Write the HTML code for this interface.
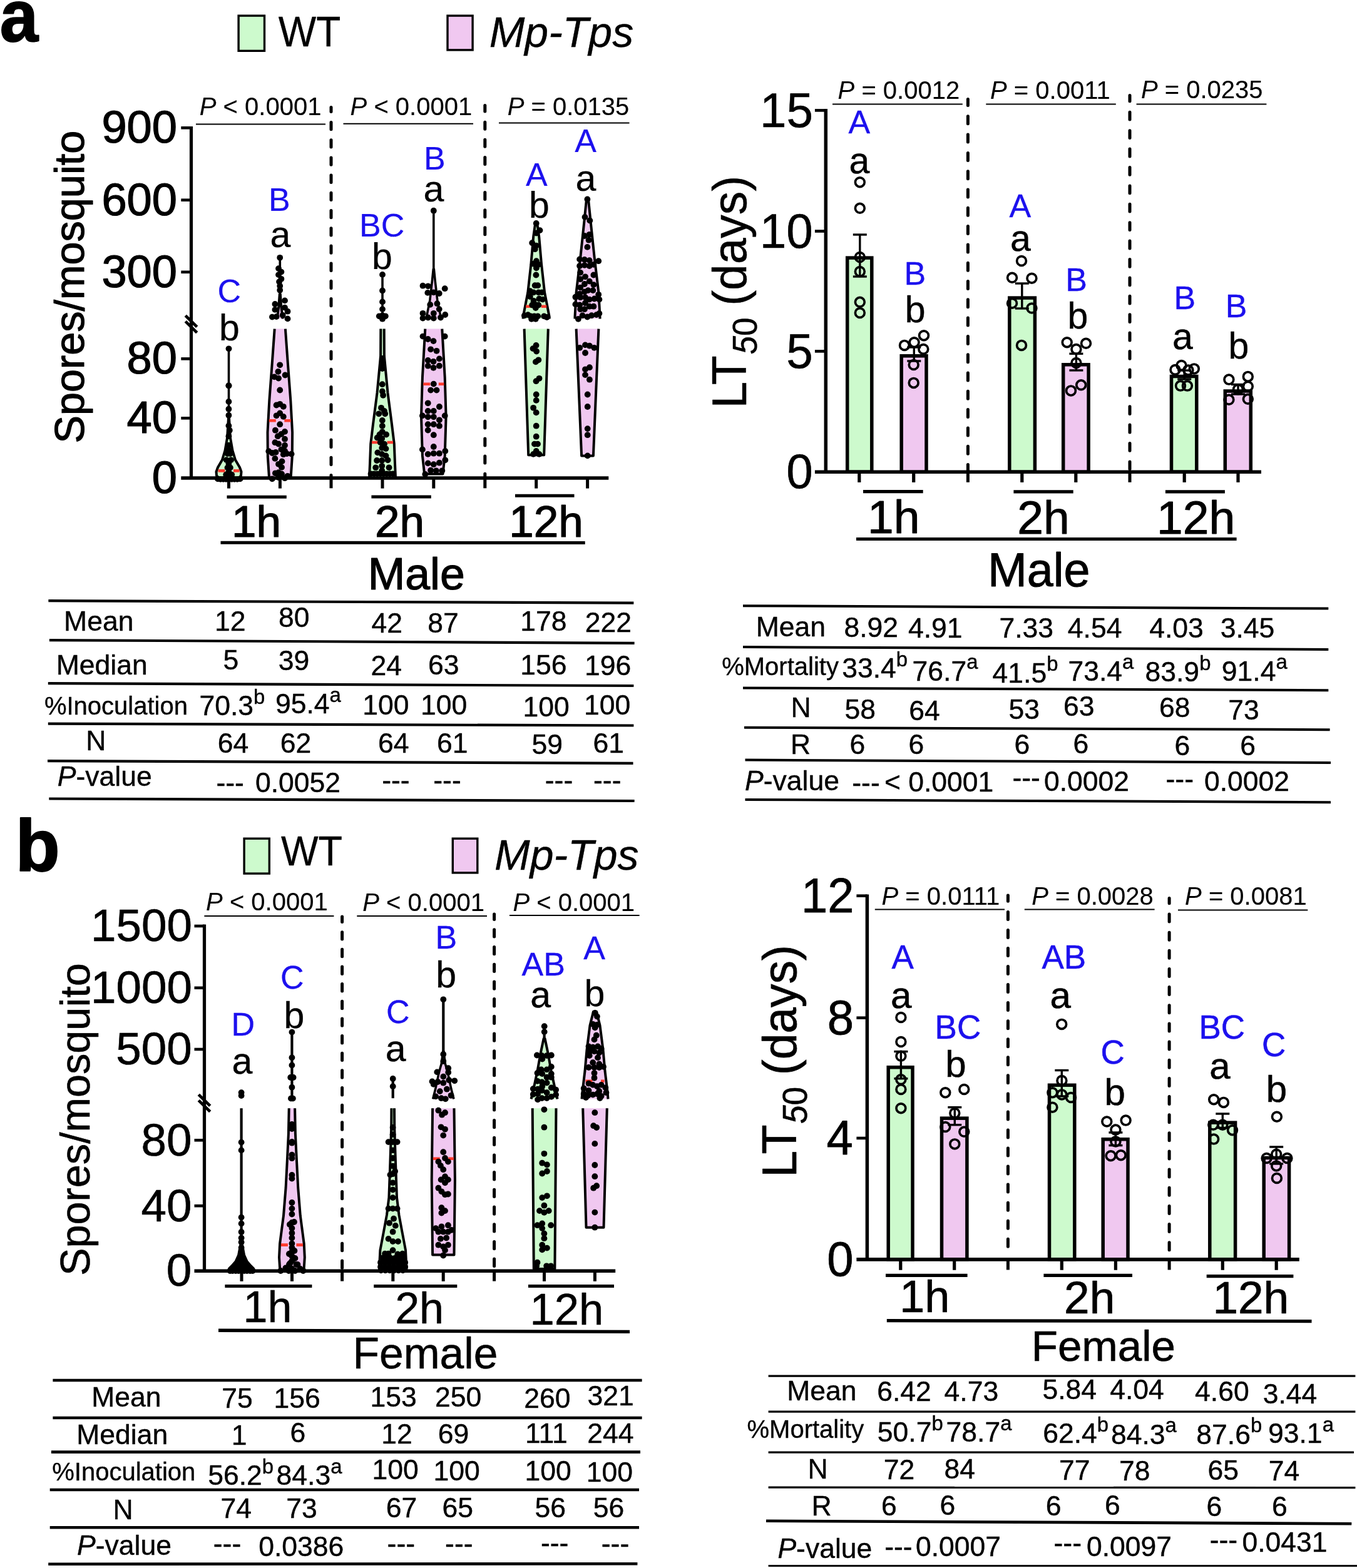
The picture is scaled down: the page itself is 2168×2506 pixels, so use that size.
<!DOCTYPE html>
<html lang="en">
<head>
<meta charset="utf-8">
<title>Figure</title>
<style>
html,body{margin:0;padding:0;background:#fff;}
body{width:2168px;height:2506px;overflow:hidden;}
svg{display:block;}
svg text{font-family:"Liberation Sans",Arial,Helvetica,sans-serif;}
</style>
</head>
<body>
<svg xmlns="http://www.w3.org/2000/svg" width="2168" height="2506" viewBox="0 0 2168 2506">
<!-- panel a : spores per mosquito, male -->
<text transform="translate(32.4 65.5) scale(0.950 1)" x="-34.4" y="0" font-size="116.0" font-weight="bold" stroke="#000" stroke-width="1.97" stroke-linejoin="round">a</text>
<rect x="381.1" y="25.1" width="41.4" height="56.2" fill="#cdfacd" stroke="#000" stroke-width="3.4"/>
<rect x="715.0" y="25.1" width="40.1" height="54.8" fill="#f0c8f0" stroke="#000" stroke-width="3.4"/>
<text transform="translate(494.0 74.3) scale(0.935 1)" x="-52.7" y="0" font-size="68.5" stroke="#000" stroke-width="0.34" stroke-linejoin="round">WT</text>
<text x="781.7" y="75.3" font-size="68.0" font-style="italic" stroke="#000" stroke-width="0.34" stroke-linejoin="round">Mp-Tps</text>
<text x="318.8" y="184.0" font-size="40.0" stroke="#000" stroke-width="0.12" stroke-linejoin="round"><tspan font-style="italic">P</tspan> &lt; 0.0001</text>
<text x="559.6" y="184.0" font-size="40.0" stroke="#000" stroke-width="0.12" stroke-linejoin="round"><tspan font-style="italic">P</tspan> &lt; 0.0001</text>
<text x="810.7" y="184.0" font-size="40.0" stroke="#000" stroke-width="0.12" stroke-linejoin="round"><tspan font-style="italic">P</tspan> = 0.0135</text>
<line x1="313.0" y1="198.5" x2="520.0" y2="198.5" stroke="#000" stroke-width="2.0"/>
<line x1="548.5" y1="197.8" x2="756.0" y2="197.8" stroke="#000" stroke-width="2.0"/>
<line x1="797.0" y1="196.5" x2="1005.5" y2="196.5" stroke="#000" stroke-width="2.0"/>
<line x1="305.5" y1="202.0" x2="305.5" y2="766.0" stroke="#000" stroke-width="5.2"/>
<line x1="289.3" y1="764.0" x2="972.3" y2="764.0" stroke="#000" stroke-width="5.4"/>
<line x1="289.3" y1="204.3" x2="305.5" y2="204.3" stroke="#000" stroke-width="4.6"/>
<line x1="289.3" y1="319.7" x2="305.5" y2="319.7" stroke="#000" stroke-width="4.6"/>
<line x1="289.3" y1="434.8" x2="305.5" y2="434.8" stroke="#000" stroke-width="4.6"/>
<line x1="289.3" y1="573.4" x2="305.5" y2="573.4" stroke="#000" stroke-width="4.6"/>
<line x1="289.3" y1="668.3" x2="305.5" y2="668.3" stroke="#000" stroke-width="4.6"/>
<line x1="296.3" y1="504.4" x2="314.7" y2="522.4" stroke="#000" stroke-width="4.8"/>
<line x1="296.3" y1="513.6" x2="314.7" y2="531.6" stroke="#000" stroke-width="4.8"/>
<line x1="365.5" y1="764.0" x2="365.5" y2="780.6" stroke="#000" stroke-width="5.0"/>
<line x1="447.4" y1="764.0" x2="447.4" y2="780.6" stroke="#000" stroke-width="5.0"/>
<line x1="611.0" y1="764.0" x2="611.0" y2="780.6" stroke="#000" stroke-width="5.0"/>
<line x1="692.8" y1="764.0" x2="692.8" y2="780.6" stroke="#000" stroke-width="5.0"/>
<line x1="856.7" y1="764.0" x2="856.7" y2="780.6" stroke="#000" stroke-width="5.0"/>
<line x1="938.6" y1="764.0" x2="938.6" y2="780.6" stroke="#000" stroke-width="5.0"/>
<path d="M529.0 759.5V763.3M529.0 731.3V742.6M529.0 703.1V714.4M529.0 674.9V686.2M529.0 646.7V658.0M529.0 618.5V629.8M529.0 590.3V601.6M529.0 562.1V573.4M529.0 533.9V545.2M529.0 505.7V517.0M529.0 477.5V488.8M529.0 449.3V460.6M529.0 421.1V432.4M529.0 392.9V404.2M529.0 364.7V376.0M529.0 336.5V347.8M529.0 308.3V319.6M529.0 280.1V291.4M529.0 251.9V263.2M529.0 223.7V235.0M529.0 195.5V206.8M529.0 171.5V178.6" fill="none" stroke="#000" stroke-width="5.0" stroke-linecap="round"/>
<line x1="529.0" y1="763.8" x2="529.0" y2="780.3" stroke="#000" stroke-width="5.0"/>
<path d="M774.8 757.2V763.3M774.8 729.1V740.1M774.8 701.0V712.0M774.8 672.9V683.9M774.8 644.8V655.8M774.8 616.7V627.7M774.8 588.6V599.6M774.8 560.5V571.5M774.8 532.4V543.4M774.8 504.3V515.3M774.8 476.2V487.2M774.8 448.1V459.1M774.8 420.0V431.0M774.8 391.9V402.9M774.8 363.8V374.8M774.8 335.7V346.7M774.8 307.6V318.6M774.8 279.5V290.5M774.8 251.4V262.4M774.8 223.3V234.3M774.8 195.2V206.2M774.8 168.5V178.1" fill="none" stroke="#000" stroke-width="5.0" stroke-linecap="round"/>
<line x1="774.8" y1="763.8" x2="774.8" y2="780.3" stroke="#000" stroke-width="5.0"/>
<text x="162.4" y="228.3" font-size="72.3" stroke="#000" stroke-width="1.23" stroke-linejoin="round">900</text>
<text x="162.4" y="343.7" font-size="72.3" stroke="#000" stroke-width="1.23" stroke-linejoin="round">600</text>
<text x="162.4" y="458.8" font-size="72.3" stroke="#000" stroke-width="1.23" stroke-linejoin="round">300</text>
<text x="202.6" y="597.4" font-size="72.3" stroke="#000" stroke-width="1.23" stroke-linejoin="round">80</text>
<text x="202.6" y="692.3" font-size="72.3" stroke="#000" stroke-width="1.23" stroke-linejoin="round">40</text>
<text x="242.7" y="787.6" font-size="72.3" stroke="#000" stroke-width="1.23" stroke-linejoin="round">0</text>
<text transform="translate(134.2 708.5) rotate(-90)" font-size="66.6" stroke="#000" stroke-width="1.13" stroke-linejoin="round">Spores/mosquito</text>
<text x="347.4" y="482.6" font-size="52.0" fill="#1c10ee" stroke="#1c10ee" stroke-width="0.21" stroke-linejoin="round">C</text>
<text x="349.9" y="543.6" font-size="59.0" stroke="#000" stroke-width="0.24" stroke-linejoin="round">b</text>
<text x="429.1" y="336.5" font-size="52.0" fill="#1c10ee" stroke="#1c10ee" stroke-width="0.21" stroke-linejoin="round">B</text>
<text x="431.4" y="394.6" font-size="59.0" stroke="#000" stroke-width="0.24" stroke-linejoin="round">a</text>
<text x="574.1" y="378.0" font-size="52.0" fill="#1c10ee" stroke="#1c10ee" stroke-width="0.21" stroke-linejoin="round">BC</text>
<text x="594.1" y="430.0" font-size="59.0" stroke="#000" stroke-width="0.24" stroke-linejoin="round">b</text>
<text x="676.9" y="270.5" font-size="52.0" fill="#1c10ee" stroke="#1c10ee" stroke-width="0.21" stroke-linejoin="round">B</text>
<text x="676.4" y="322.0" font-size="59.0" stroke="#000" stroke-width="0.24" stroke-linejoin="round">a</text>
<text x="839.9" y="297.0" font-size="52.0" fill="#1c10ee" stroke="#1c10ee" stroke-width="0.21" stroke-linejoin="round">A</text>
<text x="845.0" y="348.0" font-size="59.0" stroke="#000" stroke-width="0.24" stroke-linejoin="round">b</text>
<text x="918.2" y="243.4" font-size="52.0" fill="#1c10ee" stroke="#1c10ee" stroke-width="0.21" stroke-linejoin="round">A</text>
<text x="919.4" y="305.0" font-size="59.0" stroke="#000" stroke-width="0.24" stroke-linejoin="round">a</text>
<line x1="365.5" y1="557.0" x2="365.5" y2="700.0" stroke="#000" stroke-width="3.6"/>
<path d="M365.0 668.0 L363.0 700.0 L359.5 720.0 L355.0 735.0 L348.0 747.0 L345.5 754.0 L346.0 760.0 L348.5 763.5 L382.5 763.5 L385.0 760.0 L385.5 754.0 L383.0 747.0 L376.0 735.0 L371.5 720.0 L368.0 700.0 L366.0 668.0 Z" fill="#cdfacd"/>
<path d="M365.0 668.0 L363.0 700.0 L359.5 720.0 L355.0 735.0 L348.0 747.0 L345.5 754.0 L346.0 760.0 L348.5 763.5 L382.5 763.5 L385.0 760.0 L385.5 754.0 L383.0 747.0 L376.0 735.0 L371.5 720.0 L368.0 700.0 L366.0 668.0 Z" fill="none" stroke="#000" stroke-width="4.0" stroke-linejoin="round"/>
<line x1="348.5" y1="752.4" x2="382.5" y2="752.4" stroke="#ff3a2e" stroke-width="4.6" stroke-dasharray="11 13.5"/>
<g fill="#000">
<circle cx="365.4" cy="616.3" r="4.9"/>
<circle cx="365.4" cy="641.9" r="4.9"/>
<circle cx="365.4" cy="653.7" r="4.9"/>
<circle cx="365.4" cy="663.7" r="4.9"/>
<circle cx="365.4" cy="680.4" r="4.9"/>
<circle cx="366.8" cy="687.7" r="4.9"/>
<circle cx="365.4" cy="697.2" r="4.9"/>
<circle cx="365.4" cy="711.7" r="4.9"/>
<circle cx="365.4" cy="719.5" r="4.9"/>
<circle cx="363.5" cy="725.1" r="4.9"/>
<circle cx="367.9" cy="725.1" r="4.9"/>
<circle cx="361.8" cy="735.1" r="4.9"/>
<circle cx="369.1" cy="735.1" r="4.9"/>
<circle cx="365.4" cy="740.7" r="4.9"/>
<circle cx="363.5" cy="747.4" r="4.9"/>
<circle cx="367.9" cy="747.4" r="4.9"/>
<circle cx="365.4" cy="754.1" r="4.9"/>
<circle cx="361.2" cy="758.6" r="4.9"/>
<circle cx="370.2" cy="758.6" r="4.9"/>
<circle cx="365.4" cy="760.8" r="4.9"/>
<circle cx="347.9" cy="765.3" r="4.9"/>
<circle cx="352.3" cy="765.8" r="4.9"/>
<circle cx="356.8" cy="765.8" r="4.9"/>
<circle cx="361.2" cy="765.8" r="4.9"/>
<circle cx="365.7" cy="765.8" r="4.9"/>
<circle cx="370.2" cy="765.8" r="4.9"/>
<circle cx="374.6" cy="765.8" r="4.9"/>
<circle cx="379.1" cy="765.8" r="4.9"/>
<circle cx="383.6" cy="765.3" r="4.9"/>
<circle cx="365.5" cy="557.3" r="4.9"/>
<circle cx="365.5" cy="616.5" r="4.9"/>
</g>
<line x1="447.3" y1="412.0" x2="447.3" y2="482.0" stroke="#000" stroke-width="3.6"/>
<path d="M446.8 470.0 L445.3 490.0 L442.8 509.5 L451.8 509.5 L449.3 490.0 L447.8 470.0 Z" fill="#f0c8f0"/>
<path d="M442.8 509.5 L445.3 490.0 L446.8 470.0 L447.8 470.0 L449.3 490.0 L451.8 509.5" fill="none" stroke="#000" stroke-width="4.0" stroke-linejoin="round"/>
<g fill="#000">
<circle cx="447.2" cy="411.8" r="4.9"/>
<circle cx="445.0" cy="429.1" r="4.9"/>
<circle cx="449.4" cy="434.6" r="4.9"/>
<circle cx="445.0" cy="439.1" r="4.9"/>
<circle cx="449.4" cy="445.8" r="4.9"/>
<circle cx="446.1" cy="450.3" r="4.9"/>
<circle cx="447.2" cy="457.0" r="4.9"/>
<circle cx="447.2" cy="463.7" r="4.9"/>
<circle cx="455.0" cy="480.4" r="4.9"/>
<circle cx="439.4" cy="486.0" r="4.9"/>
<circle cx="455.0" cy="491.6" r="4.9"/>
<circle cx="439.4" cy="494.9" r="4.9"/>
<circle cx="459.5" cy="497.7" r="4.9"/>
<circle cx="434.9" cy="506.6" r="4.9"/>
<circle cx="441.6" cy="506.1" r="4.9"/>
<circle cx="451.7" cy="503.8" r="4.9"/>
<circle cx="459.5" cy="509.4" r="4.9"/>
</g>
<path d="M438.7 525.6 L434.8 580.0 L430.3 640.0 L427.5 691.0 L427.8 730.0 L430.0 763.5 L464.6 763.5 L466.8 730.0 L467.1 691.0 L464.3 640.0 L459.8 580.0 L455.9 525.6 Z" fill="#f0c8f0"/>
<path d="M438.7 525.6 L434.8 580.0 L430.3 640.0 L427.5 691.0 L427.8 730.0 L430.0 763.5 L464.6 763.5 L466.8 730.0 L467.1 691.0 L464.3 640.0 L459.8 580.0 L455.9 525.6" fill="none" stroke="#000" stroke-width="4.0" stroke-linejoin="round"/>
<line x1="429.8" y1="672.2" x2="464.8" y2="672.2" stroke="#ff3a2e" stroke-width="4.6" stroke-dasharray="11 13.5"/>
<g fill="#000">
<circle cx="447.2" cy="583.3" r="4.9"/>
<circle cx="444.4" cy="594.0" r="4.9"/>
<circle cx="455.6" cy="599.5" r="4.9"/>
<circle cx="438.3" cy="602.3" r="4.9"/>
<circle cx="445.0" cy="604.6" r="4.9"/>
<circle cx="447.2" cy="623.5" r="4.9"/>
<circle cx="441.6" cy="647.5" r="4.9"/>
<circle cx="447.2" cy="645.8" r="4.9"/>
<circle cx="452.8" cy="649.8" r="4.9"/>
<circle cx="447.2" cy="660.4" r="4.9"/>
<circle cx="441.6" cy="664.3" r="4.9"/>
<circle cx="452.8" cy="665.9" r="4.9"/>
<circle cx="447.2" cy="678.2" r="4.9"/>
<circle cx="439.9" cy="687.7" r="4.9"/>
<circle cx="455.0" cy="689.9" r="4.9"/>
<circle cx="449.4" cy="693.8" r="4.9"/>
<circle cx="443.8" cy="697.2" r="4.9"/>
<circle cx="455.0" cy="701.7" r="4.9"/>
<circle cx="439.4" cy="707.2" r="4.9"/>
<circle cx="445.0" cy="709.5" r="4.9"/>
<circle cx="455.0" cy="711.7" r="4.9"/>
<circle cx="449.4" cy="718.4" r="4.9"/>
<circle cx="455.0" cy="720.6" r="4.9"/>
<circle cx="429.3" cy="721.2" r="4.9"/>
<circle cx="434.9" cy="724.0" r="4.9"/>
<circle cx="440.5" cy="722.9" r="4.9"/>
<circle cx="452.8" cy="726.2" r="4.9"/>
<circle cx="458.3" cy="725.1" r="4.9"/>
<circle cx="465.6" cy="725.6" r="4.9"/>
<circle cx="439.4" cy="732.9" r="4.9"/>
<circle cx="450.5" cy="737.4" r="4.9"/>
<circle cx="445.0" cy="741.8" r="4.9"/>
<circle cx="450.0" cy="746.9" r="4.9"/>
<circle cx="439.9" cy="756.3" r="4.9"/>
<circle cx="445.0" cy="755.2" r="4.9"/>
<circle cx="450.0" cy="757.5" r="4.9"/>
<circle cx="445.0" cy="763.0" r="4.9"/>
<circle cx="434.9" cy="765.3" r="4.9"/>
<circle cx="455.0" cy="764.2" r="4.9"/>
<circle cx="459.5" cy="760.8" r="4.9"/>
</g>
<line x1="611.0" y1="439.0" x2="611.0" y2="511.0" stroke="#000" stroke-width="3.6"/>
<g fill="#000">
<circle cx="611.0" cy="438.9" r="4.9"/>
<circle cx="611.0" cy="464.5" r="4.9"/>
<circle cx="611.0" cy="482.4" r="4.9"/>
<circle cx="611.0" cy="494.1" r="4.9"/>
<circle cx="611.0" cy="504.2" r="4.9"/>
<circle cx="605.8" cy="505.3" r="4.9"/>
<circle cx="615.8" cy="505.3" r="4.9"/>
<circle cx="611.0" cy="509.7" r="4.9"/>
</g>
<path d="M608.3 525.6 L608.1 569.0 L602.5 628.0 L596.0 678.0 L592.2 709.6 L591.0 741.0 L590.0 763.5 L632.0 763.5 L631.0 741.0 L629.8 709.6 L626.0 678.0 L619.5 628.0 L613.9 569.0 L613.7 525.6 Z" fill="#cdfacd"/>
<path d="M608.3 525.6 L608.1 569.0 L602.5 628.0 L596.0 678.0 L592.2 709.6 L591.0 741.0 L590.0 763.5 L632.0 763.5 L631.0 741.0 L629.8 709.6 L626.0 678.0 L619.5 628.0 L613.9 569.0 L613.7 525.6" fill="none" stroke="#000" stroke-width="4.0" stroke-linejoin="round"/>
<line x1="594.0" y1="707.0" x2="628.0" y2="707.0" stroke="#ff3a2e" stroke-width="4.6" stroke-dasharray="11 13.5"/>
<g fill="#000">
<circle cx="610.8" cy="572.8" r="4.9"/>
<circle cx="610.8" cy="581.5" r="4.9"/>
<circle cx="610.8" cy="589.1" r="4.9"/>
<circle cx="610.8" cy="614.2" r="4.9"/>
<circle cx="610.8" cy="625.5" r="4.9"/>
<circle cx="612.1" cy="631.8" r="4.9"/>
<circle cx="609.0" cy="651.8" r="4.9"/>
<circle cx="614.0" cy="656.9" r="4.9"/>
<circle cx="605.2" cy="661.3" r="4.9"/>
<circle cx="615.2" cy="661.3" r="4.9"/>
<circle cx="610.8" cy="671.9" r="4.9"/>
<circle cx="610.8" cy="680.7" r="4.9"/>
<circle cx="610.8" cy="690.1" r="4.9"/>
<circle cx="606.5" cy="694.5" r="4.9"/>
<circle cx="617.1" cy="694.5" r="4.9"/>
<circle cx="602.7" cy="699.6" r="4.9"/>
<circle cx="610.2" cy="700.8" r="4.9"/>
<circle cx="607.7" cy="707.1" r="4.9"/>
<circle cx="614.0" cy="709.6" r="4.9"/>
<circle cx="610.2" cy="715.9" r="4.9"/>
<circle cx="616.5" cy="717.1" r="4.9"/>
<circle cx="603.3" cy="723.4" r="4.9"/>
<circle cx="610.2" cy="725.9" r="4.9"/>
<circle cx="616.5" cy="728.4" r="4.9"/>
<circle cx="602.1" cy="736.0" r="4.9"/>
<circle cx="610.2" cy="736.0" r="4.9"/>
<circle cx="619.6" cy="735.3" r="4.9"/>
<circle cx="610.2" cy="744.8" r="4.9"/>
<circle cx="600.2" cy="747.3" r="4.9"/>
<circle cx="621.5" cy="747.3" r="4.9"/>
<circle cx="592.6" cy="757.3" r="4.9"/>
<circle cx="597.7" cy="757.3" r="4.9"/>
<circle cx="602.7" cy="757.3" r="4.9"/>
<circle cx="607.7" cy="757.3" r="4.9"/>
<circle cx="612.7" cy="757.3" r="4.9"/>
<circle cx="617.8" cy="757.3" r="4.9"/>
<circle cx="622.8" cy="757.3" r="4.9"/>
<circle cx="627.8" cy="757.3" r="4.9"/>
<circle cx="610.2" cy="752.3" r="4.9"/>
</g>
<line x1="692.8" y1="337.0" x2="692.8" y2="445.0" stroke="#000" stroke-width="3.6"/>
<path d="M692.3 430.0 L690.3 450.0 L686.8 480.0 L680.8 509.5 L704.8 509.5 L698.8 480.0 L695.3 450.0 L693.3 430.0 Z" fill="#f0c8f0"/>
<path d="M680.8 509.5 L686.8 480.0 L690.3 450.0 L692.3 430.0 L693.3 430.0 L695.3 450.0 L698.8 480.0 L704.8 509.5" fill="none" stroke="#000" stroke-width="3.6" stroke-linejoin="round"/>
<g fill="#000">
<circle cx="692.8" cy="336.7" r="4.9"/>
<circle cx="675.5" cy="456.7" r="4.9"/>
<circle cx="683.9" cy="457.3" r="4.9"/>
<circle cx="710.7" cy="461.2" r="4.9"/>
<circle cx="683.3" cy="467.9" r="4.9"/>
<circle cx="692.8" cy="467.3" r="4.9"/>
<circle cx="701.7" cy="469.0" r="4.9"/>
<circle cx="687.2" cy="486.9" r="4.9"/>
<circle cx="698.4" cy="485.2" r="4.9"/>
<circle cx="701.7" cy="494.1" r="4.9"/>
<circle cx="675.5" cy="500.8" r="4.9"/>
<circle cx="692.8" cy="500.8" r="4.9"/>
<circle cx="711.2" cy="503.0" r="4.9"/>
<circle cx="675.5" cy="508.6" r="4.9"/>
<circle cx="683.9" cy="507.5" r="4.9"/>
<circle cx="692.8" cy="508.6" r="4.9"/>
<circle cx="704.0" cy="507.5" r="4.9"/>
</g>
<path d="M679.3 525.6 L674.9 603.0 L673.0 665.7 L674.9 728.4 L678.1 757.5 L707.5 757.5 L710.7 728.4 L712.6 665.7 L710.7 603.0 L706.3 525.6 Z" fill="#f0c8f0"/>
<path d="M679.3 525.6 L674.9 603.0 L673.0 665.7 L674.9 728.4 L678.1 757.5 L707.5 757.5 L710.7 728.4 L712.6 665.7 L710.7 603.0 L706.3 525.6" fill="none" stroke="#000" stroke-width="4.0" stroke-linejoin="round"/>
<line x1="676.3" y1="613.8" x2="709.3" y2="613.8" stroke="#ff3a2e" stroke-width="4.6" stroke-dasharray="11 13.5"/>
<g fill="#000">
<circle cx="675.5" cy="537.6" r="4.9"/>
<circle cx="710.7" cy="537.6" r="4.9"/>
<circle cx="683.7" cy="542.0" r="4.9"/>
<circle cx="692.5" cy="545.1" r="4.9"/>
<circle cx="688.1" cy="558.3" r="4.9"/>
<circle cx="697.5" cy="560.8" r="4.9"/>
<circle cx="701.9" cy="573.4" r="4.9"/>
<circle cx="683.7" cy="575.9" r="4.9"/>
<circle cx="692.5" cy="577.8" r="4.9"/>
<circle cx="683.7" cy="584.7" r="4.9"/>
<circle cx="701.9" cy="584.7" r="4.9"/>
<circle cx="692.5" cy="587.8" r="4.9"/>
<circle cx="692.8" cy="613.6" r="4.9"/>
<circle cx="688.1" cy="623.6" r="4.9"/>
<circle cx="697.5" cy="623.6" r="4.9"/>
<circle cx="683.7" cy="644.3" r="4.9"/>
<circle cx="701.9" cy="650.0" r="4.9"/>
<circle cx="683.7" cy="656.9" r="4.9"/>
<circle cx="692.8" cy="656.9" r="4.9"/>
<circle cx="674.9" cy="664.4" r="4.9"/>
<circle cx="710.7" cy="664.4" r="4.9"/>
<circle cx="683.7" cy="666.3" r="4.9"/>
<circle cx="692.8" cy="666.3" r="4.9"/>
<circle cx="701.9" cy="671.3" r="4.9"/>
<circle cx="683.7" cy="678.2" r="4.9"/>
<circle cx="692.8" cy="678.2" r="4.9"/>
<circle cx="701.9" cy="680.7" r="4.9"/>
<circle cx="683.7" cy="687.6" r="4.9"/>
<circle cx="692.8" cy="695.2" r="4.9"/>
<circle cx="692.8" cy="714.0" r="4.9"/>
<circle cx="674.9" cy="718.4" r="4.9"/>
<circle cx="711.3" cy="720.9" r="4.9"/>
<circle cx="683.7" cy="725.9" r="4.9"/>
<circle cx="692.8" cy="724.7" r="4.9"/>
<circle cx="701.9" cy="724.7" r="4.9"/>
<circle cx="711.3" cy="735.3" r="4.9"/>
<circle cx="683.7" cy="740.4" r="4.9"/>
<circle cx="692.8" cy="742.2" r="4.9"/>
<circle cx="701.9" cy="739.7" r="4.9"/>
<circle cx="688.1" cy="751.7" r="4.9"/>
<circle cx="696.8" cy="752.3" r="4.9"/>
<circle cx="706.3" cy="752.3" r="4.9"/>
<circle cx="679.3" cy="757.9" r="4.9"/>
</g>
<path d="M855.2 357.0 L852.2 378.0 L848.3 422.8 L843.3 467.4 L835.7 506.5 L835.7 509.5 L877.7 509.5 L877.7 506.5 L870.1 467.4 L865.1 422.8 L861.2 378.0 L858.2 357.0 Z" fill="#cdfacd"/>
<path d="M835.7 509.5 L835.7 506.5 L843.3 467.4 L848.3 422.8 L852.2 378.0 L855.2 357.0 L858.2 357.0 L861.2 378.0 L865.1 422.8 L870.1 467.4 L877.7 506.5 L877.7 509.5" fill="none" stroke="#000" stroke-width="4.0" stroke-linejoin="round"/>
<line x1="840.2" y1="489.7" x2="873.2" y2="489.7" stroke="#ff3a2e" stroke-width="4.6" stroke-dasharray="11 13.5"/>
<g fill="#000">
<circle cx="856.7" cy="356.9" r="4.9"/>
<circle cx="862.5" cy="368.1" r="4.9"/>
<circle cx="856.9" cy="372.5" r="4.9"/>
<circle cx="850.2" cy="388.2" r="4.9"/>
<circle cx="856.9" cy="392.6" r="4.9"/>
<circle cx="854.7" cy="398.2" r="4.9"/>
<circle cx="856.9" cy="417.2" r="4.9"/>
<circle cx="852.5" cy="421.7" r="4.9"/>
<circle cx="860.3" cy="422.8" r="4.9"/>
<circle cx="856.9" cy="428.3" r="4.9"/>
<circle cx="856.4" cy="439.5" r="4.9"/>
<circle cx="854.7" cy="456.2" r="4.9"/>
<circle cx="859.2" cy="456.2" r="4.9"/>
<circle cx="846.9" cy="465.2" r="4.9"/>
<circle cx="852.5" cy="467.4" r="4.9"/>
<circle cx="860.3" cy="467.4" r="4.9"/>
<circle cx="865.8" cy="467.4" r="4.9"/>
<circle cx="846.9" cy="474.1" r="4.9"/>
<circle cx="852.5" cy="480.8" r="4.9"/>
<circle cx="861.4" cy="477.5" r="4.9"/>
<circle cx="867.0" cy="478.6" r="4.9"/>
<circle cx="850.2" cy="487.5" r="4.9"/>
<circle cx="855.8" cy="487.5" r="4.9"/>
<circle cx="860.3" cy="487.5" r="4.9"/>
<circle cx="855.8" cy="492.0" r="4.9"/>
<circle cx="837.9" cy="504.2" r="4.9"/>
<circle cx="843.5" cy="503.1" r="4.9"/>
<circle cx="848.0" cy="505.4" r="4.9"/>
<circle cx="853.6" cy="505.4" r="4.9"/>
<circle cx="859.2" cy="505.4" r="4.9"/>
<circle cx="869.2" cy="505.4" r="4.9"/>
<circle cx="873.7" cy="507.0" r="4.9"/>
<circle cx="855.8" cy="509.8" r="4.9"/>
<circle cx="849.1" cy="509.8" r="4.9"/>
</g>
<path d="M837.6 525.6 L844.2 727.3 L869.2 727.3 L875.8 525.6 Z" fill="#cdfacd"/>
<path d="M837.6 525.6 L844.2 727.3 L869.2 727.3 L875.8 525.6" fill="none" stroke="#000" stroke-width="4.0" stroke-linejoin="round"/>
<g fill="#000">
<circle cx="856.5" cy="552.0" r="4.9"/>
<circle cx="851.5" cy="557.1" r="4.9"/>
<circle cx="857.1" cy="561.5" r="4.9"/>
<circle cx="860.3" cy="575.3" r="4.9"/>
<circle cx="855.9" cy="578.4" r="4.9"/>
<circle cx="861.5" cy="604.8" r="4.9"/>
<circle cx="856.5" cy="609.2" r="4.9"/>
<circle cx="856.7" cy="630.5" r="4.9"/>
<circle cx="856.7" cy="639.9" r="4.9"/>
<circle cx="852.1" cy="651.8" r="4.9"/>
<circle cx="856.7" cy="659.4" r="4.9"/>
<circle cx="856.7" cy="680.7" r="4.9"/>
<circle cx="856.7" cy="697.7" r="4.9"/>
<circle cx="854.0" cy="709.6" r="4.9"/>
<circle cx="859.0" cy="709.6" r="4.9"/>
<circle cx="856.7" cy="720.9" r="4.9"/>
<circle cx="852.1" cy="725.9" r="4.9"/>
<circle cx="861.5" cy="725.9" r="4.9"/>
</g>
<path d="M937.0 318.5 L933.2 355.8 L927.3 411.6 L920.6 467.4 L918.5 506.5 L918.5 509.5 L958.5 509.5 L958.5 506.5 L956.4 467.4 L949.7 411.6 L943.8 355.8 L940.0 318.5 Z" fill="#f0c8f0"/>
<path d="M918.5 509.5 L918.5 506.5 L920.6 467.4 L927.3 411.6 L933.2 355.8 L937.0 318.5 L940.0 318.5 L943.8 355.8 L949.7 411.6 L956.4 467.4 L958.5 506.5 L958.5 509.5" fill="none" stroke="#000" stroke-width="4.0" stroke-linejoin="round"/>
<g fill="#000">
<circle cx="938.4" cy="318.4" r="4.9"/>
<circle cx="934.5" cy="346.9" r="4.9"/>
<circle cx="942.3" cy="352.5" r="4.9"/>
<circle cx="933.9" cy="377.0" r="4.9"/>
<circle cx="941.7" cy="374.8" r="4.9"/>
<circle cx="940.6" cy="383.7" r="4.9"/>
<circle cx="938.4" cy="394.9" r="4.9"/>
<circle cx="926.1" cy="414.4" r="4.9"/>
<circle cx="933.9" cy="415.0" r="4.9"/>
<circle cx="941.7" cy="416.1" r="4.9"/>
<circle cx="956.2" cy="417.2" r="4.9"/>
<circle cx="926.1" cy="425.0" r="4.9"/>
<circle cx="933.9" cy="423.9" r="4.9"/>
<circle cx="941.7" cy="425.0" r="4.9"/>
<circle cx="948.4" cy="422.8" r="4.9"/>
<circle cx="927.2" cy="435.6" r="4.9"/>
<circle cx="948.4" cy="439.5" r="4.9"/>
<circle cx="935.0" cy="442.3" r="4.9"/>
<circle cx="927.2" cy="446.2" r="4.9"/>
<circle cx="941.7" cy="449.6" r="4.9"/>
<circle cx="933.9" cy="454.0" r="4.9"/>
<circle cx="948.4" cy="455.1" r="4.9"/>
<circle cx="927.2" cy="459.6" r="4.9"/>
<circle cx="939.5" cy="464.1" r="4.9"/>
<circle cx="947.3" cy="464.1" r="4.9"/>
<circle cx="933.9" cy="466.3" r="4.9"/>
<circle cx="926.1" cy="469.6" r="4.9"/>
<circle cx="956.2" cy="470.8" r="4.9"/>
<circle cx="919.4" cy="474.7" r="4.9"/>
<circle cx="927.2" cy="475.2" r="4.9"/>
<circle cx="935.0" cy="475.2" r="4.9"/>
<circle cx="941.7" cy="478.6" r="4.9"/>
<circle cx="949.6" cy="477.5" r="4.9"/>
<circle cx="957.4" cy="478.6" r="4.9"/>
<circle cx="919.4" cy="486.4" r="4.9"/>
<circle cx="926.1" cy="487.5" r="4.9"/>
<circle cx="935.0" cy="484.2" r="4.9"/>
<circle cx="941.7" cy="489.7" r="4.9"/>
<circle cx="948.4" cy="489.7" r="4.9"/>
<circle cx="927.2" cy="494.2" r="4.9"/>
<circle cx="933.9" cy="494.2" r="4.9"/>
<circle cx="923.9" cy="509.8" r="4.9"/>
<circle cx="930.6" cy="504.2" r="4.9"/>
<circle cx="938.4" cy="506.5" r="4.9"/>
<circle cx="945.1" cy="504.2" r="4.9"/>
<circle cx="952.9" cy="503.1" r="4.9"/>
<circle cx="957.4" cy="500.9" r="4.9"/>
</g>
<path d="M920.6 525.6 L929.1 728.4 L947.9 728.4 L956.4 525.6 Z" fill="#f0c8f0"/>
<path d="M920.6 525.6 L929.1 728.4 L947.9 728.4 L956.4 525.6" fill="none" stroke="#000" stroke-width="4.0" stroke-linejoin="round"/>
<g fill="#000">
<circle cx="926.2" cy="555.8" r="4.9"/>
<circle cx="935.0" cy="551.4" r="4.9"/>
<circle cx="941.9" cy="552.7" r="4.9"/>
<circle cx="949.4" cy="555.8" r="4.9"/>
<circle cx="935.0" cy="564.0" r="4.9"/>
<circle cx="941.9" cy="587.2" r="4.9"/>
<circle cx="935.0" cy="590.3" r="4.9"/>
<circle cx="935.0" cy="599.1" r="4.9"/>
<circle cx="941.9" cy="606.7" r="4.9"/>
<circle cx="938.7" cy="630.5" r="4.9"/>
<circle cx="938.7" cy="650.0" r="4.9"/>
<circle cx="938.7" cy="685.1" r="4.9"/>
<circle cx="938.7" cy="695.2" r="4.9"/>
<circle cx="938.7" cy="728.4" r="4.9"/>
</g>
<line x1="362.5" y1="794.3" x2="457.8" y2="794.3" stroke="#000" stroke-width="5.0"/>
<line x1="593.4" y1="794.0" x2="688.8" y2="794.0" stroke="#000" stroke-width="5.0"/>
<line x1="823.0" y1="792.3" x2="917.5" y2="792.3" stroke="#000" stroke-width="5.0"/>
<text x="369.9" y="858.0" font-size="71.0" stroke="#000" stroke-width="1.21" stroke-linejoin="round">1h</text>
<text x="599.1" y="858.0" font-size="71.0" stroke="#000" stroke-width="1.21" stroke-linejoin="round">2h</text>
<text x="813.2" y="858.0" font-size="71.0" stroke="#000" stroke-width="1.21" stroke-linejoin="round">12h</text>
<line x1="352.5" y1="867.3" x2="934.7" y2="867.5" stroke="#000" stroke-width="5.0"/>
<text x="587.8" y="942.3" font-size="71.5" stroke="#000" stroke-width="1.22" stroke-linejoin="round">Male</text>
<line x1="77.4" y1="960.2" x2="1012.4" y2="963.6" stroke="#000" stroke-width="4.2"/>
<line x1="78.9" y1="1023.1" x2="1013.6" y2="1027.8" stroke="#000" stroke-width="4.2"/>
<line x1="76.8" y1="1092.2" x2="1012.4" y2="1096.0" stroke="#000" stroke-width="4.2"/>
<line x1="76.8" y1="1156.6" x2="1012.4" y2="1159.5" stroke="#000" stroke-width="4.2"/>
<line x1="76.0" y1="1216.1" x2="1011.5" y2="1219.9" stroke="#000" stroke-width="4.2"/>
<line x1="78.3" y1="1276.5" x2="1013.6" y2="1280.0" stroke="#000" stroke-width="4.2"/>
<text x="102.1" y="1007.5" font-size="44.5" stroke="#000" stroke-width="0.40" stroke-linejoin="round">Mean</text>
<text x="343.0" y="1007.5" font-size="44.5" stroke="#000" stroke-width="0.40" stroke-linejoin="round">12</text>
<text x="445.1" y="1002.0" font-size="44.5" stroke="#000" stroke-width="0.40" stroke-linejoin="round">80</text>
<text x="593.4" y="1011.0" font-size="44.5" stroke="#000" stroke-width="0.40" stroke-linejoin="round">42</text>
<text x="683.2" y="1011.0" font-size="44.5" stroke="#000" stroke-width="0.40" stroke-linejoin="round">87</text>
<text x="831.2" y="1007.5" font-size="44.5" stroke="#000" stroke-width="0.40" stroke-linejoin="round">178</text>
<text x="934.7" y="1010.0" font-size="44.5" stroke="#000" stroke-width="0.40" stroke-linejoin="round">222</text>
<text x="89.8" y="1077.7" font-size="44.5" stroke="#000" stroke-width="0.40" stroke-linejoin="round">Median</text>
<text x="356.4" y="1070.4" font-size="44.5" stroke="#000" stroke-width="0.40" stroke-linejoin="round">5</text>
<text x="444.8" y="1071.3" font-size="44.5" stroke="#000" stroke-width="0.40" stroke-linejoin="round">39</text>
<text x="592.5" y="1079.0" font-size="44.5" stroke="#000" stroke-width="0.40" stroke-linejoin="round">24</text>
<text x="684.1" y="1077.7" font-size="44.5" stroke="#000" stroke-width="0.40" stroke-linejoin="round">63</text>
<text x="831.2" y="1077.7" font-size="44.5" stroke="#000" stroke-width="0.40" stroke-linejoin="round">156</text>
<text x="934.1" y="1078.5" font-size="44.5" stroke="#000" stroke-width="0.40" stroke-linejoin="round">196</text>
<text x="137.2" y="1199.0" font-size="44.5" stroke="#000" stroke-width="0.40" stroke-linejoin="round">N</text>
<text x="347.8" y="1202.5" font-size="44.5" stroke="#000" stroke-width="0.40" stroke-linejoin="round">64</text>
<text x="447.8" y="1202.5" font-size="44.5" stroke="#000" stroke-width="0.40" stroke-linejoin="round">62</text>
<text x="604.1" y="1202.5" font-size="44.5" stroke="#000" stroke-width="0.40" stroke-linejoin="round">64</text>
<text x="698.0" y="1202.5" font-size="44.5" stroke="#000" stroke-width="0.40" stroke-linejoin="round">61</text>
<text x="849.4" y="1205.4" font-size="44.5" stroke="#000" stroke-width="0.40" stroke-linejoin="round">59</text>
<text x="947.5" y="1202.5" font-size="44.5" stroke="#000" stroke-width="0.40" stroke-linejoin="round">61</text>
<text x="70.9" y="1141.5" font-size="40.0" stroke="#000" stroke-width="0.36" stroke-linejoin="round">%Inoculation</text>
<text x="318.4" y="1143.0" font-size="44.5" stroke="#000" stroke-width="0.40" stroke-linejoin="round">70.3<tspan font-size="32.9" dy="-18.5">b</tspan></text>
<text x="439.9" y="1140.0" font-size="44.5" stroke="#000" stroke-width="0.40" stroke-linejoin="round">95.4<tspan font-size="32.9" dy="-18.5">a</tspan></text>
<text x="579.3" y="1142.0" font-size="44.5" stroke="#000" stroke-width="0.40" stroke-linejoin="round">100</text>
<text x="671.9" y="1142.0" font-size="44.5" stroke="#000" stroke-width="0.40" stroke-linejoin="round">100</text>
<text x="835.6" y="1145.0" font-size="44.5" stroke="#000" stroke-width="0.40" stroke-linejoin="round">100</text>
<text x="932.9" y="1142.0" font-size="44.5" stroke="#000" stroke-width="0.40" stroke-linejoin="round">100</text>
<text x="91.8" y="1256.0" font-size="44.5" stroke="#000" stroke-width="0.40" stroke-linejoin="round"><tspan font-style="italic">P</tspan>-value</text>
<text x="345.4" y="1266.0" font-size="44.5" stroke="#000" stroke-width="0.40" stroke-linejoin="round">---</text>
<text x="407.9" y="1265.7" font-size="44.5" stroke="#000" stroke-width="0.40" stroke-linejoin="round">0.0052</text>
<text x="610.2" y="1261.6" font-size="44.5" stroke="#000" stroke-width="0.40" stroke-linejoin="round">---</text>
<text x="692.3" y="1261.6" font-size="44.5" stroke="#000" stroke-width="0.40" stroke-linejoin="round">---</text>
<text x="870.8" y="1261.6" font-size="44.5" stroke="#000" stroke-width="0.40" stroke-linejoin="round">---</text>
<text x="948.0" y="1261.6" font-size="44.5" stroke="#000" stroke-width="0.40" stroke-linejoin="round">---</text>
<!-- panel a : LT50, male -->
<text x="1338.6" y="158.2" font-size="40.0" stroke="#000" stroke-width="0.12" stroke-linejoin="round"><tspan font-style="italic">P</tspan> = 0.0012</text>
<text x="1582.0" y="158.2" font-size="40.0" stroke="#000" stroke-width="0.12" stroke-linejoin="round"><tspan font-style="italic">P</tspan> = 0.0011</text>
<text x="1822.9" y="157.2" font-size="40.0" stroke="#000" stroke-width="0.12" stroke-linejoin="round"><tspan font-style="italic">P</tspan> = 0.0235</text>
<line x1="1330.0" y1="166.6" x2="1537.8" y2="166.6" stroke="#000" stroke-width="2.0"/>
<line x1="1575.3" y1="166.6" x2="1782.8" y2="166.6" stroke="#000" stroke-width="2.0"/>
<line x1="1815.6" y1="166.6" x2="2023.4" y2="166.6" stroke="#000" stroke-width="2.0"/>
<rect x="1353.7" y="412.1" width="39.1" height="342.1" fill="#cdfacd" stroke="#000" stroke-width="5.5"/>
<rect x="1440.2" y="568.8" width="39.8" height="185.5" fill="#f0c8f0" stroke="#000" stroke-width="5.5"/>
<rect x="1612.8" y="476.1" width="40.6" height="278.1" fill="#cdfacd" stroke="#000" stroke-width="5.5"/>
<rect x="1698.7" y="582.8" width="40.4" height="171.5" fill="#f0c8f0" stroke="#000" stroke-width="5.5"/>
<rect x="1871.5" y="601.5" width="40.3" height="152.7" fill="#cdfacd" stroke="#000" stroke-width="5.5"/>
<rect x="1957.3" y="625.0" width="41.0" height="129.2" fill="#f0c8f0" stroke="#000" stroke-width="5.5"/>
<line x1="1319.3" y1="174.0" x2="1319.3" y2="756.6" stroke="#000" stroke-width="5.5"/>
<line x1="1301.9" y1="754.2" x2="2015.0" y2="754.2" stroke="#000" stroke-width="5.6"/>
<line x1="1301.9" y1="176.4" x2="1319.3" y2="176.4" stroke="#000" stroke-width="4.6"/>
<line x1="1301.9" y1="369.5" x2="1319.3" y2="369.5" stroke="#000" stroke-width="4.6"/>
<line x1="1301.9" y1="561.4" x2="1319.3" y2="561.4" stroke="#000" stroke-width="4.6"/>
<line x1="1372.8" y1="754.2" x2="1372.8" y2="770.9" stroke="#000" stroke-width="5.2"/>
<line x1="1459.7" y1="754.2" x2="1459.7" y2="770.9" stroke="#000" stroke-width="5.2"/>
<line x1="1632.8" y1="754.2" x2="1632.8" y2="770.9" stroke="#000" stroke-width="5.2"/>
<line x1="1718.8" y1="754.2" x2="1718.8" y2="770.9" stroke="#000" stroke-width="5.2"/>
<line x1="1892.2" y1="754.2" x2="1892.2" y2="770.9" stroke="#000" stroke-width="5.2"/>
<line x1="1978.0" y1="754.2" x2="1978.0" y2="770.9" stroke="#000" stroke-width="5.2"/>
<path d="M1546.4 742.5V753.7M1546.4 713.2V725.2M1546.4 683.9V695.9M1546.4 654.6V666.6M1546.4 625.3V637.3M1546.4 596.0V608.0M1546.4 566.7V578.7M1546.4 537.4V549.4M1546.4 508.1V520.1M1546.4 478.8V490.8M1546.4 449.5V461.5M1546.4 420.2V432.2M1546.4 390.9V402.9M1546.4 361.6V373.6M1546.4 332.3V344.3M1546.4 303.0V315.0M1546.4 273.7V285.7M1546.4 244.4V256.4M1546.4 215.1V227.1M1546.4 185.8V197.8M1546.4 158.5V168.5" fill="none" stroke="#000" stroke-width="5.0" stroke-linecap="round"/>
<line x1="1546.4" y1="754.2" x2="1546.4" y2="770.8" stroke="#000" stroke-width="5.0"/>
<path d="M1805.0 737.9V749.7M1805.0 708.5V720.3M1805.0 679.1V690.9M1805.0 649.7V661.5M1805.0 620.3V632.1M1805.0 590.9V602.7M1805.0 561.5V573.3M1805.0 532.1V543.9M1805.0 502.7V514.5M1805.0 473.3V485.1M1805.0 443.9V455.7M1805.0 414.5V426.3M1805.0 385.1V396.9M1805.0 355.7V367.5M1805.0 326.3V338.1M1805.0 296.9V308.7M1805.0 267.5V279.3M1805.0 238.1V249.9M1805.0 208.7V220.5M1805.0 179.3V191.1M1805.0 152.5V161.7" fill="none" stroke="#000" stroke-width="5.0" stroke-linecap="round"/>
<line x1="1805.0" y1="754.2" x2="1805.0" y2="770.8" stroke="#000" stroke-width="5.0"/>
<text transform="translate(1257.8 202.6) scale(0.980 1)" x="-44.7" y="0" font-size="78.0" stroke="#000" stroke-width="0.55" stroke-linejoin="round">15</text>
<text transform="translate(1257.7 395.7) scale(0.980 1)" x="-44.8" y="0" font-size="78.0" stroke="#000" stroke-width="0.55" stroke-linejoin="round">10</text>
<text transform="translate(1277.5 587.6) scale(0.980 1)" x="-21.7" y="0" font-size="78.0" stroke="#000" stroke-width="0.55" stroke-linejoin="round">5</text>
<text transform="translate(1277.5 780.4) scale(0.980 1)" x="-21.8" y="0" font-size="78.0" stroke="#000" stroke-width="0.55" stroke-linejoin="round">0</text>
<text transform="translate(1191.8 652.4) rotate(-90)" font-size="77.0" stroke="#000" stroke-width="0.54" stroke-linejoin="round">LT</text>
<text transform="translate(1209.1 566.5) rotate(-90) scale(0.95 1)" font-size="56" stroke="#000" stroke-width="0.39" stroke-linejoin="round"><tspan font-style="italic">5</tspan>0</text>
<text transform="translate(1191.8 384.9) rotate(-90) scale(0.985 1)" x="-105.5" font-size="76.0" stroke="#000" stroke-width="0.53" stroke-linejoin="round">(days)</text>
<line x1="1373.8" y1="375.0" x2="1373.8" y2="442.0" stroke="#000" stroke-width="3.4"/>
<line x1="1362.8" y1="375.0" x2="1384.8" y2="375.0" stroke="#000" stroke-width="3.4"/>
<line x1="1362.8" y1="442.0" x2="1384.8" y2="442.0" stroke="#000" stroke-width="3.4"/>
<line x1="1460.3" y1="555.0" x2="1460.3" y2="577.0" stroke="#000" stroke-width="3.4"/>
<line x1="1449.3" y1="555.0" x2="1471.3" y2="555.0" stroke="#000" stroke-width="3.4"/>
<line x1="1449.3" y1="577.0" x2="1471.3" y2="577.0" stroke="#000" stroke-width="3.4"/>
<line x1="1632.8" y1="453.0" x2="1632.8" y2="493.0" stroke="#000" stroke-width="3.4"/>
<line x1="1621.8" y1="453.0" x2="1643.8" y2="453.0" stroke="#000" stroke-width="3.4"/>
<line x1="1621.8" y1="493.0" x2="1643.8" y2="493.0" stroke="#000" stroke-width="3.4"/>
<line x1="1719.4" y1="565.3" x2="1719.4" y2="591.9" stroke="#000" stroke-width="3.4"/>
<line x1="1708.4" y1="565.3" x2="1730.4" y2="565.3" stroke="#000" stroke-width="3.4"/>
<line x1="1708.4" y1="591.9" x2="1730.4" y2="591.9" stroke="#000" stroke-width="3.4"/>
<line x1="1892.2" y1="592.0" x2="1892.2" y2="606.0" stroke="#000" stroke-width="3.4"/>
<line x1="1881.2" y1="592.0" x2="1903.2" y2="592.0" stroke="#000" stroke-width="3.4"/>
<line x1="1881.2" y1="606.0" x2="1903.2" y2="606.0" stroke="#000" stroke-width="3.4"/>
<line x1="1978.0" y1="614.5" x2="1978.0" y2="630.0" stroke="#000" stroke-width="3.4"/>
<line x1="1967.0" y1="614.5" x2="1989.0" y2="614.5" stroke="#000" stroke-width="3.4"/>
<line x1="1967.0" y1="630.0" x2="1989.0" y2="630.0" stroke="#000" stroke-width="3.4"/>
<g fill="none" stroke="#000" stroke-width="3.7">
<circle cx="1373.8" cy="291.2" r="7.4"/>
<circle cx="1373.8" cy="332.8" r="7.4"/>
<circle cx="1373.8" cy="411.0" r="7.4"/>
<circle cx="1373.8" cy="434.0" r="7.4"/>
<circle cx="1373.8" cy="482.8" r="7.4"/>
<circle cx="1373.8" cy="500.0" r="7.4"/>
<circle cx="1445.0" cy="551.9" r="7.4"/>
<circle cx="1460.6" cy="547.2" r="7.4"/>
<circle cx="1476.0" cy="536.2" r="7.4"/>
<circle cx="1475.3" cy="558.0" r="7.4"/>
<circle cx="1459.7" cy="583.0" r="7.4"/>
<circle cx="1459.7" cy="611.9" r="7.4"/>
<circle cx="1632.0" cy="417.0" r="7.4"/>
<circle cx="1617.0" cy="443.8" r="7.4"/>
<circle cx="1648.4" cy="444.7" r="7.4"/>
<circle cx="1617.0" cy="484.7" r="7.4"/>
<circle cx="1648.4" cy="492.5" r="7.4"/>
<circle cx="1632.0" cy="551.9" r="7.4"/>
<circle cx="1704.7" cy="547.2" r="7.4"/>
<circle cx="1735.0" cy="548.8" r="7.4"/>
<circle cx="1719.4" cy="558.0" r="7.4"/>
<circle cx="1719.4" cy="580.0" r="7.4"/>
<circle cx="1711.0" cy="624.4" r="7.4"/>
<circle cx="1727.2" cy="615.3" r="7.4"/>
<circle cx="1877.5" cy="591.0" r="7.4"/>
<circle cx="1887.5" cy="584.0" r="7.4"/>
<circle cx="1898.4" cy="591.6" r="7.4"/>
<circle cx="1907.8" cy="589.4" r="7.4"/>
<circle cx="1886.0" cy="616.6" r="7.4"/>
<circle cx="1896.9" cy="616.6" r="7.4"/>
<circle cx="1963.4" cy="606.6" r="7.4"/>
<circle cx="1993.8" cy="601.9" r="7.4"/>
<circle cx="1978.0" cy="622.2" r="7.4"/>
<circle cx="1993.8" cy="617.5" r="7.4"/>
<circle cx="1963.4" cy="638.8" r="7.4"/>
<circle cx="1993.8" cy="637.8" r="7.4"/>
</g>
<text x="1355.6" y="212.5" font-size="52.0" fill="#1c10ee" stroke="#1c10ee" stroke-width="0.36" stroke-linejoin="round">A</text>
<text x="1356.6" y="277.0" font-size="59.0" stroke="#000" stroke-width="0.41" stroke-linejoin="round">a</text>
<text x="1444.4" y="454.7" font-size="52.0" fill="#1c10ee" stroke="#1c10ee" stroke-width="0.36" stroke-linejoin="round">B</text>
<text x="1445.8" y="514.6" font-size="59.0" stroke="#000" stroke-width="0.41" stroke-linejoin="round">b</text>
<text x="1612.6" y="346.9" font-size="52.0" fill="#1c10ee" stroke="#1c10ee" stroke-width="0.36" stroke-linejoin="round">A</text>
<text x="1613.9" y="401.0" font-size="59.0" stroke="#000" stroke-width="0.41" stroke-linejoin="round">a</text>
<text x="1702.2" y="465.0" font-size="52.0" fill="#1c10ee" stroke="#1c10ee" stroke-width="0.36" stroke-linejoin="round">B</text>
<text x="1705.5" y="525.3" font-size="59.0" stroke="#000" stroke-width="0.41" stroke-linejoin="round">b</text>
<text x="1875.4" y="494.4" font-size="52.0" fill="#1c10ee" stroke="#1c10ee" stroke-width="0.36" stroke-linejoin="round">B</text>
<text x="1872.9" y="558.4" font-size="59.0" stroke="#000" stroke-width="0.41" stroke-linejoin="round">a</text>
<text x="1957.7" y="507.2" font-size="52.0" fill="#1c10ee" stroke="#1c10ee" stroke-width="0.36" stroke-linejoin="round">B</text>
<text x="1962.4" y="572.5" font-size="59.0" stroke="#000" stroke-width="0.41" stroke-linejoin="round">b</text>
<line x1="1379.0" y1="785.7" x2="1474.7" y2="785.7" stroke="#000" stroke-width="5.2"/>
<line x1="1619.4" y1="785.9" x2="1714.7" y2="785.9" stroke="#000" stroke-width="5.2"/>
<line x1="1861.9" y1="785.9" x2="1956.9" y2="785.9" stroke="#000" stroke-width="5.2"/>
<text x="1386.1" y="852.2" font-size="75.0" stroke="#000" stroke-width="0.97" stroke-linejoin="round">1h</text>
<text x="1625.3" y="853.2" font-size="75.0" stroke="#000" stroke-width="0.97" stroke-linejoin="round">2h</text>
<text x="1848.0" y="853.2" font-size="75.0" stroke="#000" stroke-width="0.97" stroke-linejoin="round">12h</text>
<line x1="1368.0" y1="861.4" x2="1975.6" y2="861.6" stroke="#000" stroke-width="5.0"/>
<text x="1577.9" y="937.4" font-size="75.5" stroke="#000" stroke-width="0.98" stroke-linejoin="round">Male</text>
<line x1="1187.0" y1="968.2" x2="2122.3" y2="972.6" stroke="#000" stroke-width="4.0"/>
<line x1="1187.0" y1="1034.1" x2="2122.3" y2="1037.9" stroke="#000" stroke-width="4.0"/>
<line x1="1187.0" y1="1099.4" x2="2122.3" y2="1103.2" stroke="#000" stroke-width="4.0"/>
<line x1="1189.0" y1="1162.7" x2="2124.6" y2="1166.2" stroke="#000" stroke-width="4.0"/>
<line x1="1190.5" y1="1214.6" x2="2126.0" y2="1219.0" stroke="#000" stroke-width="4.0"/>
<line x1="1190.5" y1="1277.9" x2="2126.0" y2="1282.2" stroke="#000" stroke-width="4.0"/>
<text x="1207.7" y="1016.7" font-size="44.5" stroke="#000" stroke-width="0.40" stroke-linejoin="round">Mean</text>
<text x="1348.5" y="1018.2" font-size="44.5" stroke="#000" stroke-width="0.40" stroke-linejoin="round">8.92</text>
<text x="1451.0" y="1019.0" font-size="44.5" stroke="#000" stroke-width="0.40" stroke-linejoin="round">4.91</text>
<text x="1596.4" y="1019.0" font-size="44.5" stroke="#000" stroke-width="0.40" stroke-linejoin="round">7.33</text>
<text x="1705.8" y="1019.0" font-size="44.5" stroke="#000" stroke-width="0.40" stroke-linejoin="round">4.54</text>
<text x="1836.2" y="1019.0" font-size="44.5" stroke="#000" stroke-width="0.40" stroke-linejoin="round">4.03</text>
<text x="1949.7" y="1019.0" font-size="44.5" stroke="#000" stroke-width="0.40" stroke-linejoin="round">3.45</text>
<text x="1153.2" y="1079.1" font-size="40.0" stroke="#000" stroke-width="0.36" stroke-linejoin="round">%Mortality</text>
<text x="1345.2" y="1083.4" font-size="44.5" stroke="#000" stroke-width="0.40" stroke-linejoin="round">33.4<tspan font-size="32.9" dy="-18.5">b</tspan></text>
<text x="1457.6" y="1087.8" font-size="44.5" stroke="#000" stroke-width="0.40" stroke-linejoin="round">76.7<tspan font-size="32.9" dy="-18.5">a</tspan></text>
<text x="1585.6" y="1090.7" font-size="44.5" stroke="#000" stroke-width="0.40" stroke-linejoin="round">41.5<tspan font-size="32.9" dy="-18.5">b</tspan></text>
<text x="1706.4" y="1087.8" font-size="44.5" stroke="#000" stroke-width="0.40" stroke-linejoin="round">73.4<tspan font-size="32.9" dy="-18.5">a</tspan></text>
<text x="1829.5" y="1089.2" font-size="44.5" stroke="#000" stroke-width="0.40" stroke-linejoin="round">83.9<tspan font-size="32.9" dy="-18.5">b</tspan></text>
<text x="1951.8" y="1087.8" font-size="44.5" stroke="#000" stroke-width="0.40" stroke-linejoin="round">91.4<tspan font-size="32.9" dy="-18.5">a</tspan></text>
<text x="1263.6" y="1145.8" font-size="44.5" stroke="#000" stroke-width="0.40" stroke-linejoin="round">N</text>
<text x="1349.4" y="1148.7" font-size="44.5" stroke="#000" stroke-width="0.40" stroke-linejoin="round">58</text>
<text x="1452.2" y="1151.0" font-size="44.5" stroke="#000" stroke-width="0.40" stroke-linejoin="round">64</text>
<text x="1611.6" y="1148.7" font-size="44.5" stroke="#000" stroke-width="0.40" stroke-linejoin="round">53</text>
<text x="1698.9" y="1144.4" font-size="44.5" stroke="#000" stroke-width="0.40" stroke-linejoin="round">63</text>
<text x="1851.9" y="1145.8" font-size="44.5" stroke="#000" stroke-width="0.40" stroke-linejoin="round">68</text>
<text x="1962.2" y="1149.6" font-size="44.5" stroke="#000" stroke-width="0.40" stroke-linejoin="round">73</text>
<text x="1263.1" y="1205.3" font-size="44.5" stroke="#000" stroke-width="0.40" stroke-linejoin="round">R</text>
<text x="1357.4" y="1205.3" font-size="44.5" stroke="#000" stroke-width="0.40" stroke-linejoin="round">6</text>
<text x="1451.4" y="1205.3" font-size="44.5" stroke="#000" stroke-width="0.40" stroke-linejoin="round">6</text>
<text x="1620.5" y="1205.3" font-size="44.5" stroke="#000" stroke-width="0.40" stroke-linejoin="round">6</text>
<text x="1714.5" y="1203.9" font-size="44.5" stroke="#000" stroke-width="0.40" stroke-linejoin="round">6</text>
<text x="1876.6" y="1206.8" font-size="44.5" stroke="#000" stroke-width="0.40" stroke-linejoin="round">6</text>
<text x="1981.2" y="1206.8" font-size="44.5" stroke="#000" stroke-width="0.40" stroke-linejoin="round">6</text>
<text x="1190.1" y="1263.4" font-size="44.5" stroke="#000" stroke-width="0.40" stroke-linejoin="round"><tspan font-style="italic">P</tspan>-value</text>
<text x="1361.3" y="1266.0" font-size="44.5" stroke="#000" stroke-width="0.40" stroke-linejoin="round">---</text>
<text x="1412.9" y="1265.4" font-size="44.5" stroke="#000" stroke-width="0.40" stroke-linejoin="round">&lt; 0.0001</text>
<text x="1617.4" y="1258.1" font-size="44.5" stroke="#000" stroke-width="0.40" stroke-linejoin="round">---</text>
<text x="1667.9" y="1264.2" font-size="44.5" stroke="#000" stroke-width="0.40" stroke-linejoin="round">0.0002</text>
<text x="1862.5" y="1259.6" font-size="44.5" stroke="#000" stroke-width="0.40" stroke-linejoin="round">---</text>
<text x="1924.0" y="1264.2" font-size="44.5" stroke="#000" stroke-width="0.40" stroke-linejoin="round">0.0002</text>
<!-- panel b : spores per mosquito, female -->
<text x="24.7" y="1391.5" font-size="116.0" font-weight="bold" stroke="#000" stroke-width="1.97" stroke-linejoin="round">b</text>
<rect x="390.1" y="1340.2" width="40.2" height="55.9" fill="#cdfacd" stroke="#000" stroke-width="3.4"/>
<rect x="723.3" y="1340.2" width="39.5" height="54.7" fill="#f0c8f0" stroke="#000" stroke-width="3.4"/>
<text transform="translate(497.5 1382.9) scale(0.950 1)" x="-51.1" y="0" font-size="66.5" stroke="#000" stroke-width="0.33" stroke-linejoin="round">WT</text>
<text x="790.0" y="1389.8" font-size="68.0" font-style="italic" stroke="#000" stroke-width="0.34" stroke-linejoin="round">Mp-Tps</text>
<text x="329.1" y="1454.6" font-size="40.0" stroke="#000" stroke-width="0.12" stroke-linejoin="round"><tspan font-style="italic">P</tspan> &lt; 0.0001</text>
<text x="579.3" y="1456.0" font-size="40.0" stroke="#000" stroke-width="0.12" stroke-linejoin="round"><tspan font-style="italic">P</tspan> &lt; 0.0001</text>
<text x="819.4" y="1456.0" font-size="40.0" stroke="#000" stroke-width="0.12" stroke-linejoin="round"><tspan font-style="italic">P</tspan> &lt; 0.0001</text>
<line x1="326.4" y1="1464.0" x2="533.4" y2="1464.0" stroke="#000" stroke-width="2.0"/>
<line x1="570.3" y1="1464.0" x2="778.0" y2="1464.0" stroke="#000" stroke-width="2.0"/>
<line x1="814.0" y1="1463.0" x2="1021.6" y2="1463.0" stroke="#000" stroke-width="2.0"/>
<line x1="326.5" y1="1477.6" x2="326.5" y2="2033.4" stroke="#000" stroke-width="5.2"/>
<line x1="310.5" y1="2031.2" x2="983.2" y2="2031.2" stroke="#000" stroke-width="5.4"/>
<line x1="310.5" y1="1480.0" x2="326.5" y2="1480.0" stroke="#000" stroke-width="4.6"/>
<line x1="310.5" y1="1578.8" x2="326.5" y2="1578.8" stroke="#000" stroke-width="4.6"/>
<line x1="310.5" y1="1677.0" x2="326.5" y2="1677.0" stroke="#000" stroke-width="4.6"/>
<line x1="310.5" y1="1822.3" x2="326.5" y2="1822.3" stroke="#000" stroke-width="4.6"/>
<line x1="310.5" y1="1927.2" x2="326.5" y2="1927.2" stroke="#000" stroke-width="4.6"/>
<line x1="317.3" y1="1749.4" x2="335.7" y2="1767.4" stroke="#000" stroke-width="4.8"/>
<line x1="317.3" y1="1758.6" x2="335.7" y2="1776.6" stroke="#000" stroke-width="4.8"/>
<line x1="386.0" y1="2031.0" x2="386.0" y2="2047.8" stroke="#000" stroke-width="5.0"/>
<line x1="466.5" y1="2031.0" x2="466.5" y2="2047.8" stroke="#000" stroke-width="5.0"/>
<line x1="627.8" y1="2031.0" x2="627.8" y2="2047.8" stroke="#000" stroke-width="5.0"/>
<line x1="708.2" y1="2031.0" x2="708.2" y2="2047.8" stroke="#000" stroke-width="5.0"/>
<line x1="869.5" y1="2031.0" x2="869.5" y2="2047.8" stroke="#000" stroke-width="5.0"/>
<line x1="950.4" y1="2031.0" x2="950.4" y2="2047.8" stroke="#000" stroke-width="5.0"/>
<path d="M546.6 2015.0V2026.4M546.6 1987.3V1998.8M546.6 1959.7V1971.1M546.6 1932.0V1943.5M546.6 1904.4V1915.8M546.6 1876.8V1888.2M546.6 1849.1V1860.5M546.6 1821.5V1832.9M546.6 1793.8V1805.2M546.6 1766.2V1777.6M546.6 1738.5V1749.9M546.6 1710.8V1722.2M546.6 1683.2V1694.6M546.6 1655.5V1667.0M546.6 1627.9V1639.3M546.6 1600.2V1611.7M546.6 1572.6V1584.0M546.6 1545.0V1556.4M546.6 1517.3V1528.7M546.6 1489.7V1501.1M546.6 1464.9V1473.4" fill="none" stroke="#000" stroke-width="5.0" stroke-linecap="round"/>
<line x1="546.6" y1="2031.0" x2="546.6" y2="2047.6" stroke="#000" stroke-width="5.0"/>
<path d="M789.6 2012.1V2023.4M789.6 1984.4V1995.7M789.6 1956.7V1968.0M789.6 1929.0V1940.3M789.6 1901.3V1912.6M789.6 1873.6V1884.9M789.6 1845.9V1857.2M789.6 1818.2V1829.5M789.6 1790.5V1801.8M789.6 1762.8V1774.1M789.6 1735.1V1746.4M789.6 1707.4V1718.7M789.6 1679.7V1691.0M789.6 1652.0V1663.3M789.6 1624.3V1635.6M789.6 1596.6V1607.9M789.6 1568.9V1580.2M789.6 1541.2V1552.5M789.6 1513.5V1524.8M789.6 1485.8V1497.1M789.6 1460.9V1469.4" fill="none" stroke="#000" stroke-width="5.0" stroke-linecap="round"/>
<line x1="789.6" y1="2031.0" x2="789.6" y2="2047.6" stroke="#000" stroke-width="5.0"/>
<text x="145.0" y="1504.4" font-size="72.8" stroke="#000" stroke-width="0.66" stroke-linejoin="round">1500</text>
<text x="145.0" y="1603.2" font-size="72.8" stroke="#000" stroke-width="0.66" stroke-linejoin="round">1000</text>
<text x="185.2" y="1701.4" font-size="72.8" stroke="#000" stroke-width="0.66" stroke-linejoin="round">500</text>
<text x="225.5" y="1846.7" font-size="72.8" stroke="#000" stroke-width="0.66" stroke-linejoin="round">80</text>
<text x="225.5" y="1951.6" font-size="72.8" stroke="#000" stroke-width="0.66" stroke-linejoin="round">40</text>
<text x="265.7" y="2055.4" font-size="72.8" stroke="#000" stroke-width="0.66" stroke-linejoin="round">0</text>
<text transform="translate(143.0 2039.0) rotate(-90)" font-size="66.6" stroke="#000" stroke-width="0.60" stroke-linejoin="round">Spores/mosquito</text>
<text x="369.5" y="1655.0" font-size="52.0" fill="#1c10ee" stroke="#1c10ee" stroke-width="0.31" stroke-linejoin="round">D</text>
<text x="370.6" y="1716.0" font-size="59.0" stroke="#000" stroke-width="0.35" stroke-linejoin="round">a</text>
<text x="448.0" y="1579.6" font-size="52.0" fill="#1c10ee" stroke="#1c10ee" stroke-width="0.31" stroke-linejoin="round">C</text>
<text x="453.6" y="1643.0" font-size="59.0" stroke="#000" stroke-width="0.35" stroke-linejoin="round">b</text>
<text x="616.9" y="1634.8" font-size="52.0" fill="#1c10ee" stroke="#1c10ee" stroke-width="0.31" stroke-linejoin="round">C</text>
<text x="615.8" y="1695.5" font-size="59.0" stroke="#000" stroke-width="0.35" stroke-linejoin="round">a</text>
<text x="695.6" y="1516.0" font-size="52.0" fill="#1c10ee" stroke="#1c10ee" stroke-width="0.31" stroke-linejoin="round">B</text>
<text x="696.3" y="1578.0" font-size="59.0" stroke="#000" stroke-width="0.35" stroke-linejoin="round">b</text>
<text x="833.6" y="1558.8" font-size="52.0" fill="#1c10ee" stroke="#1c10ee" stroke-width="0.31" stroke-linejoin="round">AB</text>
<text x="847.3" y="1610.4" font-size="59.0" stroke="#000" stroke-width="0.35" stroke-linejoin="round">a</text>
<text x="932.3" y="1532.7" font-size="52.0" fill="#1c10ee" stroke="#1c10ee" stroke-width="0.31" stroke-linejoin="round">A</text>
<text x="933.4" y="1608.0" font-size="59.0" stroke="#000" stroke-width="0.35" stroke-linejoin="round">b</text>
<line x1="385.6" y1="1771.2" x2="385.6" y2="2012.0" stroke="#000" stroke-width="4.2"/>
<path d="M384.1 1990.0 L381.1 2006.0 L376.6 2016.0 L370.6 2023.0 L366.1 2027.5 L365.1 2032.0 L406.1 2032.0 L405.1 2027.5 L400.6 2023.0 L394.6 2016.0 L390.1 2006.0 L387.1 1990.0 Z" fill="#cdfacd"/>
<path d="M384.1 1990.0 L381.1 2006.0 L376.6 2016.0 L370.6 2023.0 L366.1 2027.5 L365.1 2032.0 L406.1 2032.0 L405.1 2027.5 L400.6 2023.0 L394.6 2016.0 L390.1 2006.0 L387.1 1990.0 Z" fill="none" stroke="#000" stroke-width="4.0" stroke-linejoin="round"/>
<g fill="#000">
<circle cx="385.6" cy="1746.1" r="4.9"/>
<circle cx="385.6" cy="1751.1" r="4.9"/>
<circle cx="385.6" cy="1825.6" r="4.9"/>
<circle cx="385.6" cy="1838.4" r="4.9"/>
<circle cx="385.6" cy="1945.6" r="4.9"/>
<circle cx="385.6" cy="1955.6" r="4.9"/>
<circle cx="385.6" cy="1969.0" r="4.9"/>
<circle cx="385.6" cy="1978.5" r="4.9"/>
<circle cx="385.6" cy="1985.2" r="4.9"/>
<circle cx="385.6" cy="1994.1" r="4.9"/>
<circle cx="385.6" cy="2000.8" r="4.9"/>
<circle cx="385.6" cy="2008.0" r="4.9"/>
<circle cx="381.6" cy="2014.0" r="4.9"/>
<circle cx="389.6" cy="2014.0" r="4.9"/>
<circle cx="385.6" cy="2019.0" r="4.9"/>
<circle cx="377.6" cy="2022.0" r="4.9"/>
<circle cx="393.6" cy="2022.0" r="4.9"/>
<circle cx="382.6" cy="2026.0" r="4.9"/>
<circle cx="388.6" cy="2026.0" r="4.9"/>
<circle cx="372.6" cy="2027.0" r="4.9"/>
<circle cx="398.6" cy="2027.0" r="4.9"/>
<circle cx="367.6" cy="2031.0" r="4.9"/>
<circle cx="371.6" cy="2031.0" r="4.9"/>
<circle cx="376.6" cy="2031.0" r="4.9"/>
<circle cx="381.1" cy="2031.0" r="4.9"/>
<circle cx="385.6" cy="2031.0" r="4.9"/>
<circle cx="390.1" cy="2031.0" r="4.9"/>
<circle cx="394.6" cy="2031.0" r="4.9"/>
<circle cx="399.6" cy="2031.0" r="4.9"/>
<circle cx="403.6" cy="2031.0" r="4.9"/>
</g>
<line x1="466.4" y1="1650.0" x2="466.4" y2="1756.5" stroke="#000" stroke-width="4.2"/>
<g fill="#000">
<circle cx="466.4" cy="1649.6" r="4.9"/>
<circle cx="466.4" cy="1690.3" r="4.9"/>
<circle cx="466.4" cy="1702.5" r="4.9"/>
<circle cx="464.2" cy="1722.0" r="4.9"/>
<circle cx="468.6" cy="1722.0" r="4.9"/>
<circle cx="466.4" cy="1737.7" r="4.9"/>
<circle cx="464.9" cy="1755.6" r="4.9"/>
<circle cx="467.9" cy="1755.6" r="4.9"/>
</g>
<path d="M461.7 1771.2 L460.9 1812.0 L458.9 1853.5 L456.6 1898.0 L453.0 1942.8 L447.1 1987.4 L446.0 2009.7 L447.4 2031.0 L485.4 2031.0 L486.8 2009.7 L485.7 1987.4 L479.8 1942.8 L476.2 1898.0 L473.9 1853.5 L471.9 1812.0 L471.1 1771.2 Z" fill="#f0c8f0"/>
<path d="M461.7 1771.2 L460.9 1812.0 L458.9 1853.5 L456.6 1898.0 L453.0 1942.8 L447.1 1987.4 L446.0 2009.7 L447.4 2031.0 L485.4 2031.0 L486.8 2009.7 L485.7 1987.4 L479.8 1942.8 L476.2 1898.0 L473.9 1853.5 L471.9 1812.0 L471.1 1771.2" fill="none" stroke="#000" stroke-width="4.0" stroke-linejoin="round"/>
<line x1="448.9" y1="1989.6" x2="483.9" y2="1989.6" stroke="#ff3a2e" stroke-width="4.6" stroke-dasharray="11 13.5"/>
<g fill="#000">
<circle cx="466.4" cy="1797.0" r="4.9"/>
<circle cx="466.4" cy="1804.0" r="4.9"/>
<circle cx="466.4" cy="1825.0" r="4.9"/>
<circle cx="466.4" cy="1826.7" r="4.9"/>
<circle cx="466.4" cy="1845.7" r="4.9"/>
<circle cx="466.4" cy="1851.2" r="4.9"/>
<circle cx="466.4" cy="1878.0" r="4.9"/>
<circle cx="466.4" cy="1883.6" r="4.9"/>
<circle cx="466.4" cy="1922.0" r="4.9"/>
<circle cx="466.4" cy="1931.6" r="4.9"/>
<circle cx="466.4" cy="1940.5" r="4.9"/>
<circle cx="466.4" cy="1954.0" r="4.9"/>
<circle cx="466.4" cy="1962.9" r="4.9"/>
<circle cx="466.4" cy="1970.7" r="4.9"/>
<circle cx="466.4" cy="1978.5" r="4.9"/>
<circle cx="466.4" cy="1987.4" r="4.9"/>
<circle cx="466.4" cy="1994.0" r="4.9"/>
<circle cx="466.4" cy="2000.8" r="4.9"/>
<circle cx="466.4" cy="2007.5" r="4.9"/>
<circle cx="466.4" cy="2015.3" r="4.9"/>
<circle cx="469.9" cy="1953.0" r="4.9"/>
<circle cx="462.9" cy="1957.0" r="4.9"/>
<circle cx="470.4" cy="1999.0" r="4.9"/>
<circle cx="461.9" cy="2004.0" r="4.9"/>
<circle cx="471.4" cy="2011.0" r="4.9"/>
<circle cx="463.4" cy="2019.0" r="4.9"/>
<circle cx="473.4" cy="2021.0" r="4.9"/>
<circle cx="448.4" cy="2031.0" r="4.9"/>
<circle cx="456.4" cy="2026.5" r="4.9"/>
<circle cx="461.9" cy="2021.0" r="4.9"/>
<circle cx="466.4" cy="2027.6" r="4.9"/>
<circle cx="475.4" cy="2021.0" r="4.9"/>
<circle cx="479.4" cy="2027.6" r="4.9"/>
<circle cx="484.4" cy="2031.0" r="4.9"/>
<circle cx="461.4" cy="2031.0" r="4.9"/>
<circle cx="471.4" cy="2031.0" r="4.9"/>
</g>
<line x1="627.7" y1="1724.0" x2="627.7" y2="1755.2" stroke="#000" stroke-width="4.2"/>
<g fill="#000">
<circle cx="627.7" cy="1724.0" r="4.9"/>
<circle cx="627.7" cy="1736.3" r="4.9"/>
</g>
<path d="M625.4 1771.2 L625.2 1802.0 L623.4 1858.0 L621.4 1914.0 L617.9 1942.0 L612.7 1970.0 L607.4 1998.0 L606.0 2026.0 L606.0 2032.0 L649.4 2032.0 L649.4 2026.0 L648.0 1998.0 L642.7 1970.0 L637.5 1942.0 L634.0 1914.0 L632.0 1858.0 L630.2 1802.0 L630.0 1771.2 Z" fill="#cdfacd"/>
<path d="M625.4 1771.2 L625.2 1802.0 L623.4 1858.0 L621.4 1914.0 L617.9 1942.0 L612.7 1970.0 L607.4 1998.0 L606.0 2026.0 L606.0 2032.0 L649.4 2032.0 L649.4 2026.0 L648.0 1998.0 L642.7 1970.0 L637.5 1942.0 L634.0 1914.0 L632.0 1858.0 L630.2 1802.0 L630.0 1771.2" fill="none" stroke="#000" stroke-width="4.0" stroke-linejoin="round"/>
<g fill="#000">
<circle cx="620.6" cy="1825.1" r="4.9"/>
<circle cx="627.6" cy="1825.1" r="4.9"/>
<circle cx="634.6" cy="1825.1" r="4.9"/>
<circle cx="627.6" cy="1876.2" r="4.9"/>
<circle cx="631.1" cy="1872.0" r="4.9"/>
<circle cx="623.4" cy="1877.6" r="4.9"/>
<circle cx="620.6" cy="1931.6" r="4.9"/>
<circle cx="627.6" cy="1931.6" r="4.9"/>
<circle cx="634.6" cy="1931.6" r="4.9"/>
<circle cx="629.0" cy="1947.7" r="4.9"/>
<circle cx="622.0" cy="1954.7" r="4.9"/>
<circle cx="627.6" cy="1968.7" r="4.9"/>
<circle cx="631.8" cy="1958.9" r="4.9"/>
<circle cx="620.6" cy="1979.9" r="4.9"/>
<circle cx="627.6" cy="1984.1" r="4.9"/>
<circle cx="636.0" cy="1984.1" r="4.9"/>
<circle cx="615.0" cy="2003.7" r="4.9"/>
<circle cx="620.6" cy="2003.7" r="4.9"/>
<circle cx="627.6" cy="1998.1" r="4.9"/>
<circle cx="643.0" cy="2003.7" r="4.9"/>
<circle cx="635.3" cy="2004.4" r="4.9"/>
<circle cx="610.1" cy="2010.7" r="4.9"/>
<circle cx="617.1" cy="2010.7" r="4.9"/>
<circle cx="624.1" cy="2010.7" r="4.9"/>
<circle cx="631.1" cy="2010.7" r="4.9"/>
<circle cx="638.1" cy="2010.7" r="4.9"/>
<circle cx="645.1" cy="2010.7" r="4.9"/>
<circle cx="608.0" cy="2017.7" r="4.9"/>
<circle cx="615.0" cy="2017.7" r="4.9"/>
<circle cx="622.0" cy="2017.7" r="4.9"/>
<circle cx="629.0" cy="2017.7" r="4.9"/>
<circle cx="636.0" cy="2017.7" r="4.9"/>
<circle cx="643.0" cy="2017.7" r="4.9"/>
<circle cx="647.2" cy="2017.7" r="4.9"/>
<circle cx="608.0" cy="2024.7" r="4.9"/>
<circle cx="615.0" cy="2024.7" r="4.9"/>
<circle cx="622.0" cy="2024.7" r="4.9"/>
<circle cx="629.0" cy="2024.7" r="4.9"/>
<circle cx="636.0" cy="2024.7" r="4.9"/>
<circle cx="643.0" cy="2024.7" r="4.9"/>
<circle cx="647.2" cy="2024.7" r="4.9"/>
<circle cx="608.7" cy="2030.3" r="4.9"/>
<circle cx="615.7" cy="2030.3" r="4.9"/>
<circle cx="622.7" cy="2030.3" r="4.9"/>
<circle cx="629.7" cy="2030.3" r="4.9"/>
<circle cx="636.7" cy="2030.3" r="4.9"/>
<circle cx="643.7" cy="2030.3" r="4.9"/>
<circle cx="627.6" cy="1802.0" r="4.9"/>
<circle cx="627.6" cy="1813.2" r="4.9"/>
<circle cx="627.6" cy="1838.4" r="4.9"/>
<circle cx="627.6" cy="1851.0" r="4.9"/>
<circle cx="627.6" cy="1863.6" r="4.9"/>
<circle cx="627.6" cy="1890.3" r="4.9"/>
<circle cx="627.6" cy="1901.5" r="4.9"/>
<circle cx="627.6" cy="1914.1" r="4.9"/>
</g>
<line x1="708.3" y1="1597.5" x2="708.3" y2="1690.0" stroke="#000" stroke-width="4.2"/>
<path d="M707.8 1680.0 L705.3 1700.0 L701.3 1714.0 L695.8 1740.0 L691.6 1756.5 L725.0 1756.5 L720.8 1740.0 L715.3 1714.0 L711.3 1700.0 L708.8 1680.0 Z" fill="#f0c8f0"/>
<path d="M691.6 1756.5 L695.8 1740.0 L701.3 1714.0 L705.3 1700.0 L707.8 1680.0 L708.8 1680.0 L711.3 1700.0 L715.3 1714.0 L720.8 1740.0 L725.0 1756.5" fill="none" stroke="#000" stroke-width="3.6" stroke-linejoin="round"/>
<g fill="#000">
<circle cx="708.3" cy="1597.3" r="4.9"/>
<circle cx="708.3" cy="1684.9" r="4.9"/>
<circle cx="716.2" cy="1707.2" r="4.9"/>
<circle cx="698.3" cy="1713.4" r="4.9"/>
<circle cx="716.2" cy="1713.9" r="4.9"/>
<circle cx="690.5" cy="1728.4" r="4.9"/>
<circle cx="699.4" cy="1729.0" r="4.9"/>
<circle cx="717.3" cy="1726.2" r="4.9"/>
<circle cx="726.2" cy="1727.3" r="4.9"/>
<circle cx="692.7" cy="1732.9" r="4.9"/>
<circle cx="713.9" cy="1740.7" r="4.9"/>
<circle cx="702.8" cy="1744.1" r="4.9"/>
<circle cx="720.6" cy="1750.8" r="4.9"/>
<circle cx="696.1" cy="1752.4" r="4.9"/>
<circle cx="705.0" cy="1755.2" r="4.9"/>
<circle cx="711.7" cy="1756.3" r="4.9"/>
<circle cx="708.3" cy="1696.1" r="4.9"/>
<circle cx="708.3" cy="1720.6" r="4.9"/>
<circle cx="708.3" cy="1730.7" r="4.9"/>
</g>
<path d="M691.1 1771.2 L689.7 1886.0 L691.1 2005.5 L725.5 2005.5 L726.9 1886.0 L725.5 1771.2 Z" fill="#f0c8f0"/>
<path d="M691.1 1771.2 L689.7 1886.0 L691.1 2005.5 L725.5 2005.5 L726.9 1886.0 L725.5 1771.2" fill="none" stroke="#000" stroke-width="4.0" stroke-linejoin="round"/>
<line x1="691.8" y1="1851.7" x2="724.8" y2="1851.7" stroke="#ff3a2e" stroke-width="4.6" stroke-dasharray="11 13.5"/>
<g fill="#000">
<circle cx="700.4" cy="1774.7" r="4.9"/>
<circle cx="711.0" cy="1778.2" r="4.9"/>
<circle cx="706.1" cy="1781.7" r="4.9"/>
<circle cx="704.6" cy="1801.3" r="4.9"/>
<circle cx="711.0" cy="1804.8" r="4.9"/>
<circle cx="708.2" cy="1814.6" r="4.9"/>
<circle cx="708.2" cy="1841.2" r="4.9"/>
<circle cx="711.0" cy="1851.0" r="4.9"/>
<circle cx="700.4" cy="1856.6" r="4.9"/>
<circle cx="715.9" cy="1856.6" r="4.9"/>
<circle cx="703.9" cy="1862.9" r="4.9"/>
<circle cx="708.2" cy="1869.2" r="4.9"/>
<circle cx="711.0" cy="1880.4" r="4.9"/>
<circle cx="704.6" cy="1885.4" r="4.9"/>
<circle cx="715.9" cy="1885.4" r="4.9"/>
<circle cx="711.0" cy="1890.3" r="4.9"/>
<circle cx="700.4" cy="1898.7" r="4.9"/>
<circle cx="705.4" cy="1904.3" r="4.9"/>
<circle cx="711.0" cy="1909.2" r="4.9"/>
<circle cx="715.9" cy="1908.5" r="4.9"/>
<circle cx="705.4" cy="1930.2" r="4.9"/>
<circle cx="711.0" cy="1935.1" r="4.9"/>
<circle cx="705.4" cy="1938.6" r="4.9"/>
<circle cx="715.9" cy="1958.2" r="4.9"/>
<circle cx="705.4" cy="1960.3" r="4.9"/>
<circle cx="696.2" cy="1963.1" r="4.9"/>
<circle cx="721.5" cy="1965.9" r="4.9"/>
<circle cx="700.4" cy="1968.7" r="4.9"/>
<circle cx="708.2" cy="1968.7" r="4.9"/>
<circle cx="715.9" cy="1968.7" r="4.9"/>
<circle cx="703.9" cy="1979.9" r="4.9"/>
<circle cx="713.1" cy="1978.5" r="4.9"/>
<circle cx="700.4" cy="1989.7" r="4.9"/>
<circle cx="715.9" cy="1989.7" r="4.9"/>
<circle cx="708.2" cy="1992.5" r="4.9"/>
<circle cx="711.0" cy="1998.1" r="4.9"/>
<circle cx="708.2" cy="2006.5" r="4.9"/>
</g>
<line x1="869.6" y1="1640.0" x2="869.6" y2="1670.0" stroke="#000" stroke-width="4.2"/>
<path d="M868.6 1660.0 L863.6 1683.7 L858.6 1711.6 L852.6 1739.5 L848.6 1756.5 L890.6 1756.5 L886.6 1739.5 L880.6 1711.6 L875.6 1683.7 L870.6 1660.0 Z" fill="#cdfacd"/>
<path d="M848.6 1756.5 L852.6 1739.5 L858.6 1711.6 L863.6 1683.7 L868.6 1660.0 L870.6 1660.0 L875.6 1683.7 L880.6 1711.6 L886.6 1739.5 L890.6 1756.5" fill="none" stroke="#000" stroke-width="4.0" stroke-linejoin="round"/>
<g fill="#000">
<circle cx="869.7" cy="1640.2" r="4.9"/>
<circle cx="869.7" cy="1649.1" r="4.9"/>
<circle cx="857.9" cy="1686.5" r="4.9"/>
<circle cx="865.8" cy="1687.1" r="4.9"/>
<circle cx="873.6" cy="1687.1" r="4.9"/>
<circle cx="880.8" cy="1686.5" r="4.9"/>
<circle cx="866.3" cy="1692.6" r="4.9"/>
<circle cx="880.8" cy="1704.9" r="4.9"/>
<circle cx="864.6" cy="1709.4" r="4.9"/>
<circle cx="873.6" cy="1709.4" r="4.9"/>
<circle cx="858.5" cy="1715.0" r="4.9"/>
<circle cx="866.3" cy="1716.1" r="4.9"/>
<circle cx="880.8" cy="1716.1" r="4.9"/>
<circle cx="873.6" cy="1721.7" r="4.9"/>
<circle cx="880.8" cy="1721.7" r="4.9"/>
<circle cx="858.5" cy="1727.8" r="4.9"/>
<circle cx="865.8" cy="1729.5" r="4.9"/>
<circle cx="873.6" cy="1730.6" r="4.9"/>
<circle cx="866.3" cy="1736.2" r="4.9"/>
<circle cx="851.8" cy="1740.1" r="4.9"/>
<circle cx="859.1" cy="1740.6" r="4.9"/>
<circle cx="880.8" cy="1738.4" r="4.9"/>
<circle cx="888.1" cy="1741.7" r="4.9"/>
<circle cx="865.8" cy="1742.9" r="4.9"/>
<circle cx="873.6" cy="1746.2" r="4.9"/>
<circle cx="851.8" cy="1749.0" r="4.9"/>
<circle cx="859.1" cy="1748.4" r="4.9"/>
<circle cx="888.1" cy="1749.6" r="4.9"/>
<circle cx="880.8" cy="1752.9" r="4.9"/>
<circle cx="859.1" cy="1757.4" r="4.9"/>
<circle cx="865.8" cy="1755.1" r="4.9"/>
<circle cx="873.6" cy="1755.1" r="4.9"/>
</g>
<path d="M850.7 1771.2 L852.8 2028.0 L886.4 2028.0 L888.5 1771.2 Z" fill="#cdfacd"/>
<path d="M850.7 1771.2 L852.8 2028.0 L886.4 2028.0 L888.5 1771.2" fill="none" stroke="#000" stroke-width="4.0" stroke-linejoin="round"/>
<g fill="#000">
<circle cx="869.4" cy="1773.3" r="4.9"/>
<circle cx="869.4" cy="1801.7" r="4.9"/>
<circle cx="869.4" cy="1843.8" r="4.9"/>
<circle cx="866.2" cy="1858.7" r="4.9"/>
<circle cx="873.9" cy="1861.5" r="4.9"/>
<circle cx="873.9" cy="1872.0" r="4.9"/>
<circle cx="866.2" cy="1875.5" r="4.9"/>
<circle cx="873.9" cy="1911.3" r="4.9"/>
<circle cx="866.2" cy="1914.1" r="4.9"/>
<circle cx="869.4" cy="1926.7" r="4.9"/>
<circle cx="862.0" cy="1935.1" r="4.9"/>
<circle cx="869.4" cy="1937.9" r="4.9"/>
<circle cx="876.7" cy="1935.1" r="4.9"/>
<circle cx="858.5" cy="1958.2" r="4.9"/>
<circle cx="866.2" cy="1955.4" r="4.9"/>
<circle cx="880.2" cy="1958.2" r="4.9"/>
<circle cx="866.2" cy="1963.1" r="4.9"/>
<circle cx="869.4" cy="1971.5" r="4.9"/>
<circle cx="869.4" cy="1979.2" r="4.9"/>
<circle cx="866.2" cy="1989.7" r="4.9"/>
<circle cx="873.9" cy="1994.6" r="4.9"/>
<circle cx="866.2" cy="1997.4" r="4.9"/>
<circle cx="858.5" cy="2017.7" r="4.9"/>
<circle cx="857.1" cy="2023.3" r="4.9"/>
<circle cx="873.2" cy="2023.3" r="4.9"/>
<circle cx="880.2" cy="2023.3" r="4.9"/>
</g>
<path d="M948.0 1616.7 L942.5 1639.0 L937.5 1678.0 L934.5 1711.6 L930.5 1745.0 L929.5 1756.5 L971.5 1756.5 L970.5 1745.0 L966.5 1711.6 L963.5 1678.0 L958.5 1639.0 L953.0 1616.7 Z" fill="#f0c8f0"/>
<path d="M929.5 1756.5 L930.5 1745.0 L934.5 1711.6 L937.5 1678.0 L942.5 1639.0 L948.0 1616.7 L953.0 1616.7 L958.5 1639.0 L963.5 1678.0 L966.5 1711.6 L970.5 1745.0 L971.5 1756.5" fill="none" stroke="#000" stroke-width="4.0" stroke-linejoin="round"/>
<line x1="935.5" y1="1727.8" x2="965.5" y2="1727.8" stroke="#ff3a2e" stroke-width="4.6" stroke-dasharray="11 13.5"/>
<g fill="#000">
<circle cx="950.6" cy="1619.0" r="4.9"/>
<circle cx="953.9" cy="1624.6" r="4.9"/>
<circle cx="947.2" cy="1636.8" r="4.9"/>
<circle cx="953.9" cy="1637.9" r="4.9"/>
<circle cx="950.6" cy="1642.4" r="4.9"/>
<circle cx="952.8" cy="1654.7" r="4.9"/>
<circle cx="949.5" cy="1661.4" r="4.9"/>
<circle cx="940.5" cy="1672.5" r="4.9"/>
<circle cx="947.2" cy="1673.7" r="4.9"/>
<circle cx="955.0" cy="1672.5" r="4.9"/>
<circle cx="960.6" cy="1675.9" r="4.9"/>
<circle cx="942.8" cy="1680.4" r="4.9"/>
<circle cx="949.5" cy="1680.4" r="4.9"/>
<circle cx="957.3" cy="1682.6" r="4.9"/>
<circle cx="941.7" cy="1687.1" r="4.9"/>
<circle cx="955.0" cy="1690.4" r="4.9"/>
<circle cx="947.2" cy="1698.2" r="4.9"/>
<circle cx="957.3" cy="1700.4" r="4.9"/>
<circle cx="940.5" cy="1706.0" r="4.9"/>
<circle cx="949.5" cy="1706.0" r="4.9"/>
<circle cx="957.3" cy="1706.0" r="4.9"/>
<circle cx="964.0" cy="1704.9" r="4.9"/>
<circle cx="949.5" cy="1715.0" r="4.9"/>
<circle cx="949.5" cy="1722.8" r="4.9"/>
<circle cx="940.5" cy="1731.7" r="4.9"/>
<circle cx="947.2" cy="1733.9" r="4.9"/>
<circle cx="953.9" cy="1736.2" r="4.9"/>
<circle cx="960.6" cy="1733.9" r="4.9"/>
<circle cx="932.7" cy="1739.5" r="4.9"/>
<circle cx="967.3" cy="1738.4" r="4.9"/>
<circle cx="940.5" cy="1742.9" r="4.9"/>
<circle cx="957.3" cy="1744.0" r="4.9"/>
<circle cx="932.7" cy="1748.4" r="4.9"/>
<circle cx="939.4" cy="1750.7" r="4.9"/>
<circle cx="947.2" cy="1749.6" r="4.9"/>
<circle cx="953.9" cy="1748.4" r="4.9"/>
<circle cx="960.6" cy="1751.8" r="4.9"/>
<circle cx="968.4" cy="1746.2" r="4.9"/>
<circle cx="936.1" cy="1754.0" r="4.9"/>
<circle cx="958.4" cy="1755.1" r="4.9"/>
</g>
<path d="M931.2 1771.2 L936.5 1961.7 L964.5 1961.7 L969.8 1771.2 Z" fill="#f0c8f0"/>
<path d="M931.2 1771.2 L936.5 1961.7 L964.5 1961.7 L969.8 1771.2" fill="none" stroke="#000" stroke-width="4.0" stroke-linejoin="round"/>
<g fill="#000">
<circle cx="950.3" cy="1778.2" r="4.9"/>
<circle cx="948.2" cy="1799.2" r="4.9"/>
<circle cx="953.1" cy="1802.0" r="4.9"/>
<circle cx="950.3" cy="1827.9" r="4.9"/>
<circle cx="950.3" cy="1862.0" r="4.9"/>
<circle cx="950.3" cy="1880.2" r="4.9"/>
<circle cx="953.1" cy="1895.2" r="4.9"/>
<circle cx="948.2" cy="1898.7" r="4.9"/>
<circle cx="950.3" cy="1937.6" r="4.9"/>
<circle cx="950.3" cy="1961.7" r="4.9"/>
</g>
<line x1="359.4" y1="2055.5" x2="498.4" y2="2055.5" stroke="#000" stroke-width="5.0"/>
<line x1="597.2" y1="2055.5" x2="730.3" y2="2055.5" stroke="#000" stroke-width="5.0"/>
<line x1="844.0" y1="2055.5" x2="981.0" y2="2055.5" stroke="#000" stroke-width="5.0"/>
<text x="388.6" y="2113.2" font-size="70.0" stroke="#000" stroke-width="0.56" stroke-linejoin="round">1h</text>
<text x="631.2" y="2115.3" font-size="70.0" stroke="#000" stroke-width="0.56" stroke-linejoin="round">2h</text>
<text x="846.5" y="2117.3" font-size="70.5" stroke="#000" stroke-width="0.56" stroke-linejoin="round">12h</text>
<line x1="349.0" y1="2126.3" x2="1006.0" y2="2128.4" stroke="#000" stroke-width="5.4"/>
<text x="563.6" y="2186.6" font-size="69.5" stroke="#000" stroke-width="0.56" stroke-linejoin="round">Female</text>
<line x1="84.4" y1="2206.0" x2="1025.6" y2="2206.0" stroke="#000" stroke-width="4.6"/>
<line x1="84.4" y1="2266.0" x2="1025.6" y2="2266.0" stroke="#000" stroke-width="4.6"/>
<line x1="81.9" y1="2320.6" x2="1023.0" y2="2320.6" stroke="#000" stroke-width="4.6"/>
<line x1="79.7" y1="2381.0" x2="1021.0" y2="2381.0" stroke="#000" stroke-width="4.6"/>
<line x1="79.7" y1="2441.2" x2="1021.0" y2="2441.2" stroke="#000" stroke-width="4.6"/>
<line x1="77.2" y1="2499.7" x2="1018.4" y2="2499.2" stroke="#000" stroke-width="4.6"/>
<text x="146.2" y="2247.5" font-size="44.5" stroke="#000" stroke-width="0.40" stroke-linejoin="round">Mean</text>
<text x="354.2" y="2249.7" font-size="44.5" stroke="#000" stroke-width="0.40" stroke-linejoin="round">75</text>
<text x="437.5" y="2249.7" font-size="44.5" stroke="#000" stroke-width="0.40" stroke-linejoin="round">156</text>
<text x="591.4" y="2248.0" font-size="44.5" stroke="#000" stroke-width="0.40" stroke-linejoin="round">153</text>
<text x="695.1" y="2248.0" font-size="44.5" stroke="#000" stroke-width="0.40" stroke-linejoin="round">250</text>
<text x="837.3" y="2249.7" font-size="44.5" stroke="#000" stroke-width="0.40" stroke-linejoin="round">260</text>
<text x="938.6" y="2245.6" font-size="44.5" stroke="#000" stroke-width="0.40" stroke-linejoin="round">321</text>
<text x="122.3" y="2307.5" font-size="44.5" stroke="#000" stroke-width="0.40" stroke-linejoin="round">Median</text>
<text x="369.8" y="2309.0" font-size="44.5" stroke="#000" stroke-width="0.40" stroke-linejoin="round">1</text>
<text x="463.6" y="2305.0" font-size="44.5" stroke="#000" stroke-width="0.40" stroke-linejoin="round">6</text>
<text x="609.3" y="2307.0" font-size="44.5" stroke="#000" stroke-width="0.40" stroke-linejoin="round">12</text>
<text x="699.8" y="2307.0" font-size="44.5" stroke="#000" stroke-width="0.40" stroke-linejoin="round">69</text>
<text x="839.0" y="2306.0" font-size="44.5" stroke="#000" stroke-width="0.40" stroke-linejoin="round">111</text>
<text x="938.2" y="2306.0" font-size="44.5" stroke="#000" stroke-width="0.40" stroke-linejoin="round">244</text>
<text x="83.3" y="2366.2" font-size="40.0" stroke="#000" stroke-width="0.36" stroke-linejoin="round">%Inoculation</text>
<text x="332.2" y="2373.0" font-size="44.5" stroke="#000" stroke-width="0.40" stroke-linejoin="round">56.2<tspan font-size="32.9" dy="-18.5">b</tspan></text>
<text x="441.6" y="2373.0" font-size="44.5" stroke="#000" stroke-width="0.40" stroke-linejoin="round">84.3<tspan font-size="32.9" dy="-18.5">a</tspan></text>
<text x="594.6" y="2363.8" font-size="44.5" stroke="#000" stroke-width="0.40" stroke-linejoin="round">100</text>
<text x="692.5" y="2366.2" font-size="44.5" stroke="#000" stroke-width="0.40" stroke-linejoin="round">100</text>
<text x="838.6" y="2366.2" font-size="44.5" stroke="#000" stroke-width="0.40" stroke-linejoin="round">100</text>
<text x="936.7" y="2368.4" font-size="44.5" stroke="#000" stroke-width="0.40" stroke-linejoin="round">100</text>
<text x="180.6" y="2427.8" font-size="44.5" stroke="#000" stroke-width="0.40" stroke-linejoin="round">N</text>
<text x="352.4" y="2426.2" font-size="44.5" stroke="#000" stroke-width="0.40" stroke-linejoin="round">74</text>
<text x="457.3" y="2426.2" font-size="44.5" stroke="#000" stroke-width="0.40" stroke-linejoin="round">73</text>
<text x="616.7" y="2424.7" font-size="44.5" stroke="#000" stroke-width="0.40" stroke-linejoin="round">67</text>
<text x="706.5" y="2424.7" font-size="44.5" stroke="#000" stroke-width="0.40" stroke-linejoin="round">65</text>
<text x="854.4" y="2424.7" font-size="44.5" stroke="#000" stroke-width="0.40" stroke-linejoin="round">56</text>
<text x="947.7" y="2424.7" font-size="44.5" stroke="#000" stroke-width="0.40" stroke-linejoin="round">56</text>
<text x="123.1" y="2484.7" font-size="44.5" stroke="#000" stroke-width="0.40" stroke-linejoin="round"><tspan font-style="italic">P</tspan>-value</text>
<text x="340.8" y="2482.3" font-size="44.5" stroke="#000" stroke-width="0.40" stroke-linejoin="round">---</text>
<text x="413.2" y="2487.2" font-size="44.5" stroke="#000" stroke-width="0.40" stroke-linejoin="round">0.0386</text>
<text x="618.6" y="2482.3" font-size="44.5" stroke="#000" stroke-width="0.40" stroke-linejoin="round">---</text>
<text x="711.1" y="2482.3" font-size="44.5" stroke="#000" stroke-width="0.40" stroke-linejoin="round">---</text>
<text x="863.9" y="2480.7" font-size="44.5" stroke="#000" stroke-width="0.40" stroke-linejoin="round">---</text>
<text x="960.8" y="2482.3" font-size="44.5" stroke="#000" stroke-width="0.40" stroke-linejoin="round">---</text>
<!-- panel b : LT50, female -->
<text x="1408.5" y="1445.6" font-size="40.0" stroke="#000" stroke-width="0.12" stroke-linejoin="round"><tspan font-style="italic">P</tspan> = 0.0111</text>
<text x="1648.2" y="1445.6" font-size="40.0" stroke="#000" stroke-width="0.12" stroke-linejoin="round"><tspan font-style="italic">P</tspan> = 0.0028</text>
<text x="1893.1" y="1445.6" font-size="40.0" stroke="#000" stroke-width="0.12" stroke-linejoin="round"><tspan font-style="italic">P</tspan> = 0.0081</text>
<line x1="1397.8" y1="1453.4" x2="1605.0" y2="1453.4" stroke="#000" stroke-width="2.0"/>
<line x1="1636.8" y1="1453.4" x2="1844.6" y2="1453.4" stroke="#000" stroke-width="2.0"/>
<line x1="1882.0" y1="1454.4" x2="2089.3" y2="1454.4" stroke="#000" stroke-width="2.0"/>
<rect x="1419.2" y="1705.8" width="38.8" height="307.0" fill="#cdfacd" stroke="#000" stroke-width="5.5"/>
<rect x="1504.5" y="1787.2" width="40.4" height="225.5" fill="#f0c8f0" stroke="#000" stroke-width="5.5"/>
<rect x="1676.5" y="1734.3" width="40.3" height="278.4" fill="#cdfacd" stroke="#000" stroke-width="5.5"/>
<rect x="1762.2" y="1820.8" width="39.8" height="192.0" fill="#f0c8f0" stroke="#000" stroke-width="5.5"/>
<rect x="1932.8" y="1794.2" width="40.8" height="218.5" fill="#cdfacd" stroke="#000" stroke-width="5.5"/>
<rect x="2019.2" y="1850.5" width="40.4" height="162.2" fill="#f0c8f0" stroke="#000" stroke-width="5.5"/>
<line x1="1385.4" y1="1429.4" x2="1385.4" y2="2015.1" stroke="#000" stroke-width="5.5"/>
<line x1="1368.4" y1="2012.9" x2="2075.8" y2="2012.9" stroke="#000" stroke-width="5.6"/>
<line x1="1368.4" y1="1431.7" x2="1385.4" y2="1431.7" stroke="#000" stroke-width="4.6"/>
<line x1="1368.4" y1="1626.7" x2="1385.4" y2="1626.7" stroke="#000" stroke-width="4.6"/>
<line x1="1368.4" y1="1819.0" x2="1385.4" y2="1819.0" stroke="#000" stroke-width="4.6"/>
<line x1="1438.8" y1="2012.7" x2="1438.8" y2="2029.8" stroke="#000" stroke-width="5.2"/>
<line x1="1524.7" y1="2012.7" x2="1524.7" y2="2029.8" stroke="#000" stroke-width="5.2"/>
<line x1="1696.3" y1="2012.7" x2="1696.3" y2="2029.8" stroke="#000" stroke-width="5.2"/>
<line x1="1782.4" y1="2012.7" x2="1782.4" y2="2029.8" stroke="#000" stroke-width="5.2"/>
<line x1="1953.3" y1="2012.7" x2="1953.3" y2="2029.8" stroke="#000" stroke-width="5.2"/>
<line x1="2039.2" y1="2012.7" x2="2039.2" y2="2029.8" stroke="#000" stroke-width="5.2"/>
<path d="M1610.4 1980.3V1992.3M1610.4 1951.2V1963.2M1610.4 1922.2V1934.2M1610.4 1893.1V1905.1M1610.4 1864.1V1876.1M1610.4 1835.0V1847.0M1610.4 1806.0V1818.0M1610.4 1777.0V1789.0M1610.4 1747.9V1759.9M1610.4 1718.8V1730.8M1610.4 1689.8V1701.8M1610.4 1660.8V1672.8M1610.4 1631.7V1643.7M1610.4 1602.6V1614.6M1610.4 1573.6V1585.6M1610.4 1544.5V1556.5M1610.4 1515.5V1527.5M1610.4 1486.4V1498.4M1610.4 1457.4V1469.4M1610.4 1430.9V1440.3" fill="none" stroke="#000" stroke-width="5.0" stroke-linecap="round"/>
<line x1="1610.4" y1="2012.7" x2="1610.4" y2="2029.5" stroke="#000" stroke-width="5.0"/>
<path d="M1868.1 1985.7V1997.7M1868.1 1956.5V1968.5M1868.1 1927.4V1939.4M1868.1 1898.2V1910.2M1868.1 1869.1V1881.1M1868.1 1840.0V1852.0M1868.1 1810.8V1822.8M1868.1 1781.7V1793.7M1868.1 1752.5V1764.5M1868.1 1723.4V1735.4M1868.1 1694.2V1706.2M1868.1 1665.1V1677.1M1868.1 1635.9V1647.9M1868.1 1606.8V1618.8M1868.1 1577.6V1589.6M1868.1 1548.5V1560.5M1868.1 1519.3V1531.3M1868.1 1490.2V1502.2M1868.1 1461.0V1473.0M1868.1 1435.5V1443.8" fill="none" stroke="#000" stroke-width="5.0" stroke-linecap="round"/>
<line x1="1868.1" y1="2012.7" x2="1868.1" y2="2029.5" stroke="#000" stroke-width="5.0"/>
<text transform="translate(1323.2 1457.7) scale(0.980 1)" x="-44.0" y="0" font-size="77.5" stroke="#000" stroke-width="0.78" stroke-linejoin="round">12</text>
<text transform="translate(1342.7 1652.7) scale(0.980 1)" x="-21.5" y="0" font-size="77.5" stroke="#000" stroke-width="0.78" stroke-linejoin="round">8</text>
<text transform="translate(1341.4 1845.0) scale(0.980 1)" x="-21.3" y="0" font-size="77.5" stroke="#000" stroke-width="0.78" stroke-linejoin="round">4</text>
<text transform="translate(1342.5 2038.7) scale(0.980 1)" x="-21.6" y="0" font-size="77.5" stroke="#000" stroke-width="0.78" stroke-linejoin="round">0</text>
<text transform="translate(1271.8 1881.7) rotate(-90)" font-size="77.0" stroke="#000" stroke-width="0.77" stroke-linejoin="round">LT</text>
<text transform="translate(1289.1 1796.0) rotate(-90) scale(0.95 1)" font-size="56" stroke="#000" stroke-width="0.56" stroke-linejoin="round"><tspan font-style="italic">5</tspan>0</text>
<text transform="translate(1271.8 1614.3) rotate(-90) scale(0.985 1)" x="-105.5" font-size="76.0" stroke="#000" stroke-width="0.76" stroke-linejoin="round">(days)</text>
<line x1="1439.4" y1="1680.6" x2="1439.4" y2="1723.8" stroke="#000" stroke-width="3.4"/>
<line x1="1428.4" y1="1680.6" x2="1450.4" y2="1680.6" stroke="#000" stroke-width="3.4"/>
<line x1="1428.4" y1="1723.8" x2="1450.4" y2="1723.8" stroke="#000" stroke-width="3.4"/>
<line x1="1525.3" y1="1769.7" x2="1525.3" y2="1797.8" stroke="#000" stroke-width="3.4"/>
<line x1="1514.3" y1="1769.7" x2="1536.3" y2="1769.7" stroke="#000" stroke-width="3.4"/>
<line x1="1514.3" y1="1797.8" x2="1536.3" y2="1797.8" stroke="#000" stroke-width="3.4"/>
<line x1="1696.3" y1="1710.6" x2="1696.3" y2="1752.0" stroke="#000" stroke-width="3.4"/>
<line x1="1685.3" y1="1710.6" x2="1707.3" y2="1710.6" stroke="#000" stroke-width="3.4"/>
<line x1="1685.3" y1="1752.0" x2="1707.3" y2="1752.0" stroke="#000" stroke-width="3.4"/>
<line x1="1782.4" y1="1810.0" x2="1782.4" y2="1830.6" stroke="#000" stroke-width="3.4"/>
<line x1="1771.4" y1="1810.0" x2="1793.4" y2="1810.0" stroke="#000" stroke-width="3.4"/>
<line x1="1771.4" y1="1830.6" x2="1793.4" y2="1830.6" stroke="#000" stroke-width="3.4"/>
<line x1="1953.3" y1="1780.0" x2="1953.3" y2="1802.5" stroke="#000" stroke-width="3.4"/>
<line x1="1942.3" y1="1780.0" x2="1964.3" y2="1780.0" stroke="#000" stroke-width="3.4"/>
<line x1="1942.3" y1="1802.5" x2="1964.3" y2="1802.5" stroke="#000" stroke-width="3.4"/>
<line x1="2039.2" y1="1833.0" x2="2039.2" y2="1860.0" stroke="#000" stroke-width="3.4"/>
<line x1="2028.2" y1="1833.0" x2="2050.2" y2="1833.0" stroke="#000" stroke-width="3.4"/>
<line x1="2028.2" y1="1860.0" x2="2050.2" y2="1860.0" stroke="#000" stroke-width="3.4"/>
<g fill="none" stroke="#000" stroke-width="3.7">
<circle cx="1439.4" cy="1626.0" r="7.4"/>
<circle cx="1439.4" cy="1665.0" r="7.4"/>
<circle cx="1439.4" cy="1687.8" r="7.4"/>
<circle cx="1439.4" cy="1725.3" r="7.4"/>
<circle cx="1439.4" cy="1741.0" r="7.4"/>
<circle cx="1439.4" cy="1771.2" r="7.4"/>
<circle cx="1510.3" cy="1746.2" r="7.4"/>
<circle cx="1540.3" cy="1741.0" r="7.4"/>
<circle cx="1525.3" cy="1779.0" r="7.4"/>
<circle cx="1510.3" cy="1801.0" r="7.4"/>
<circle cx="1540.3" cy="1808.8" r="7.4"/>
<circle cx="1525.3" cy="1828.4" r="7.4"/>
<circle cx="1696.2" cy="1636.9" r="7.4"/>
<circle cx="1696.4" cy="1727.0" r="7.4"/>
<circle cx="1681.4" cy="1746.2" r="7.4"/>
<circle cx="1696.4" cy="1749.4" r="7.4"/>
<circle cx="1711.0" cy="1754.0" r="7.4"/>
<circle cx="1681.4" cy="1769.7" r="7.4"/>
<circle cx="1768.3" cy="1792.5" r="7.4"/>
<circle cx="1798.6" cy="1790.6" r="7.4"/>
<circle cx="1782.4" cy="1805.6" r="7.4"/>
<circle cx="1782.4" cy="1824.4" r="7.4"/>
<circle cx="1774.6" cy="1847.2" r="7.4"/>
<circle cx="1790.8" cy="1846.2" r="7.4"/>
<circle cx="1939.2" cy="1757.2" r="7.4"/>
<circle cx="1954.9" cy="1761.9" r="7.4"/>
<circle cx="1953.3" cy="1797.8" r="7.4"/>
<circle cx="1969.0" cy="1806.2" r="7.4"/>
<circle cx="1938.3" cy="1797.8" r="7.4"/>
<circle cx="1939.2" cy="1820.6" r="7.4"/>
<circle cx="2039.9" cy="1784.7" r="7.4"/>
<circle cx="2023.6" cy="1851.0" r="7.4"/>
<circle cx="2039.2" cy="1844.7" r="7.4"/>
<circle cx="2056.4" cy="1851.0" r="7.4"/>
<circle cx="2039.2" cy="1863.4" r="7.4"/>
<circle cx="2039.9" cy="1883.0" r="7.4"/>
</g>
<text x="1424.4" y="1548.0" font-size="53.0" fill="#1c10ee" stroke="#1c10ee" stroke-width="0.53" stroke-linejoin="round">A</text>
<text x="1423.0" y="1611.0" font-size="60.0" stroke="#000" stroke-width="0.60" stroke-linejoin="round">a</text>
<text x="1493.6" y="1659.7" font-size="53.0" fill="#1c10ee" stroke="#1c10ee" stroke-width="0.53" stroke-linejoin="round">BC</text>
<text x="1510.2" y="1720.6" font-size="60.0" stroke="#000" stroke-width="0.60" stroke-linejoin="round">b</text>
<text x="1664.5" y="1548.0" font-size="53.0" fill="#1c10ee" stroke="#1c10ee" stroke-width="0.53" stroke-linejoin="round">AB</text>
<text x="1677.6" y="1611.0" font-size="60.0" stroke="#000" stroke-width="0.60" stroke-linejoin="round">a</text>
<text x="1758.6" y="1700.0" font-size="53.0" fill="#1c10ee" stroke="#1c10ee" stroke-width="0.53" stroke-linejoin="round">C</text>
<text x="1764.5" y="1766.0" font-size="60.0" stroke="#000" stroke-width="0.60" stroke-linejoin="round">b</text>
<text x="1915.5" y="1659.7" font-size="53.0" fill="#1c10ee" stroke="#1c10ee" stroke-width="0.53" stroke-linejoin="round">BC</text>
<text x="1932.3" y="1723.5" font-size="60.0" stroke="#000" stroke-width="0.60" stroke-linejoin="round">a</text>
<text x="2015.9" y="1687.5" font-size="53.0" fill="#1c10ee" stroke="#1c10ee" stroke-width="0.53" stroke-linejoin="round">C</text>
<text x="2022.8" y="1761.0" font-size="60.0" stroke="#000" stroke-width="0.60" stroke-linejoin="round">b</text>
<line x1="1415.0" y1="2038.3" x2="1545.6" y2="2038.3" stroke="#000" stroke-width="5.3"/>
<line x1="1667.4" y1="2038.3" x2="1809.0" y2="2038.3" stroke="#000" stroke-width="5.3"/>
<line x1="1927.7" y1="2039.6" x2="2066.4" y2="2039.6" stroke="#000" stroke-width="5.3"/>
<text x="1437.3" y="2097.4" font-size="72.0" stroke="#000" stroke-width="0.72" stroke-linejoin="round">1h</text>
<text x="1700.1" y="2099.2" font-size="73.0" stroke="#000" stroke-width="0.73" stroke-linejoin="round">2h</text>
<text x="1937.4" y="2099.2" font-size="73.0" stroke="#000" stroke-width="0.73" stroke-linejoin="round">12h</text>
<line x1="1416.8" y1="2110.7" x2="2095.5" y2="2111.6" stroke="#000" stroke-width="5.2"/>
<text x="1647.8" y="2175.2" font-size="69.0" stroke="#000" stroke-width="0.69" stroke-linejoin="round">Female</text>
<line x1="1227.6" y1="2199.2" x2="2165.4" y2="2199.2" stroke="#000" stroke-width="3.2"/>
<line x1="1227.6" y1="2256.1" x2="2165.4" y2="2256.1" stroke="#000" stroke-width="3.2"/>
<line x1="1227.6" y1="2321.1" x2="2163.0" y2="2321.1" stroke="#000" stroke-width="3.2"/>
<line x1="1227.6" y1="2377.1" x2="2165.4" y2="2377.7" stroke="#000" stroke-width="3.2"/>
<line x1="1224.0" y1="2430.8" x2="2159.3" y2="2435.2" stroke="#000" stroke-width="4.6"/>
<line x1="1227.6" y1="2502.5" x2="2168.0" y2="2502.5" stroke="#000" stroke-width="3.2"/>
<text x="1257.3" y="2238.4" font-size="44.5" stroke="#000" stroke-width="0.40" stroke-linejoin="round">Mean</text>
<text x="1401.2" y="2239.3" font-size="44.5" stroke="#000" stroke-width="0.40" stroke-linejoin="round">6.42</text>
<text x="1508.6" y="2239.3" font-size="44.5" stroke="#000" stroke-width="0.40" stroke-linejoin="round">4.73</text>
<text x="1665.4" y="2236.4" font-size="44.5" stroke="#000" stroke-width="0.40" stroke-linejoin="round">5.84</text>
<text x="1773.2" y="2236.4" font-size="44.5" stroke="#000" stroke-width="0.40" stroke-linejoin="round">4.04</text>
<text x="1909.1" y="2239.3" font-size="44.5" stroke="#000" stroke-width="0.40" stroke-linejoin="round">4.60</text>
<text x="2017.7" y="2242.8" font-size="44.5" stroke="#000" stroke-width="0.40" stroke-linejoin="round">3.44</text>
<text x="1193.5" y="2298.2" font-size="40.0" stroke="#000" stroke-width="0.36" stroke-linejoin="round">%Mortality</text>
<text x="1401.8" y="2304.0" font-size="44.5" stroke="#000" stroke-width="0.40" stroke-linejoin="round">50.7<tspan font-size="32.9" dy="-18.5">b</tspan></text>
<text x="1511.6" y="2304.0" font-size="44.5" stroke="#000" stroke-width="0.40" stroke-linejoin="round">78.7<tspan font-size="32.9" dy="-18.5">a</tspan></text>
<text x="1666.2" y="2306.0" font-size="44.5" stroke="#000" stroke-width="0.40" stroke-linejoin="round">62.4<tspan font-size="32.9" dy="-18.5">b</tspan></text>
<text x="1774.9" y="2307.5" font-size="44.5" stroke="#000" stroke-width="0.40" stroke-linejoin="round">84.3<tspan font-size="32.9" dy="-18.5">a</tspan></text>
<text x="1911.3" y="2307.5" font-size="44.5" stroke="#000" stroke-width="0.40" stroke-linejoin="round">87.6<tspan font-size="32.9" dy="-18.5">b</tspan></text>
<text x="2026.0" y="2306.0" font-size="44.5" stroke="#000" stroke-width="0.40" stroke-linejoin="round">93.1<tspan font-size="32.9" dy="-18.5">a</tspan></text>
<text x="1290.4" y="2362.6" font-size="44.5" stroke="#000" stroke-width="0.40" stroke-linejoin="round">N</text>
<text x="1411.7" y="2364.0" font-size="44.5" stroke="#000" stroke-width="0.40" stroke-linejoin="round">72</text>
<text x="1508.4" y="2362.6" font-size="44.5" stroke="#000" stroke-width="0.40" stroke-linejoin="round">84</text>
<text x="1692.1" y="2364.7" font-size="44.5" stroke="#000" stroke-width="0.40" stroke-linejoin="round">77</text>
<text x="1788.0" y="2366.4" font-size="44.5" stroke="#000" stroke-width="0.40" stroke-linejoin="round">78</text>
<text x="1929.6" y="2364.7" font-size="44.5" stroke="#000" stroke-width="0.40" stroke-linejoin="round">65</text>
<text x="2026.8" y="2365.5" font-size="44.5" stroke="#000" stroke-width="0.40" stroke-linejoin="round">74</text>
<text x="1296.6" y="2421.5" font-size="44.5" stroke="#000" stroke-width="0.40" stroke-linejoin="round">R</text>
<text x="1408.0" y="2421.5" font-size="44.5" stroke="#000" stroke-width="0.40" stroke-linejoin="round">6</text>
<text x="1501.6" y="2420.7" font-size="44.5" stroke="#000" stroke-width="0.40" stroke-linejoin="round">6</text>
<text x="1670.8" y="2422.0" font-size="44.5" stroke="#000" stroke-width="0.40" stroke-linejoin="round">6</text>
<text x="1765.0" y="2420.7" font-size="44.5" stroke="#000" stroke-width="0.40" stroke-linejoin="round">6</text>
<text x="1927.5" y="2422.7" font-size="44.5" stroke="#000" stroke-width="0.40" stroke-linejoin="round">6</text>
<text x="2032.0" y="2422.7" font-size="44.5" stroke="#000" stroke-width="0.40" stroke-linejoin="round">6</text>
<text x="1242.4" y="2490.3" font-size="44.5" stroke="#000" stroke-width="0.40" stroke-linejoin="round"><tspan font-style="italic">P</tspan>-value</text>
<text x="1413.2" y="2486.5" font-size="44.5" stroke="#000" stroke-width="0.40" stroke-linejoin="round">---</text>
<text x="1463.0" y="2487.4" font-size="44.5" stroke="#000" stroke-width="0.40" stroke-linejoin="round">0.0007</text>
<text x="1683.5" y="2480.7" font-size="44.5" stroke="#000" stroke-width="0.40" stroke-linejoin="round">---</text>
<text x="1735.9" y="2487.4" font-size="44.5" stroke="#000" stroke-width="0.40" stroke-linejoin="round">0.0097</text>
<text x="1932.7" y="2476.3" font-size="44.5" stroke="#000" stroke-width="0.40" stroke-linejoin="round">---</text>
<text x="1984.4" y="2480.0" font-size="44.5" stroke="#000" stroke-width="0.40" stroke-linejoin="round">0.0431</text>
</svg>
</body>
</html>
